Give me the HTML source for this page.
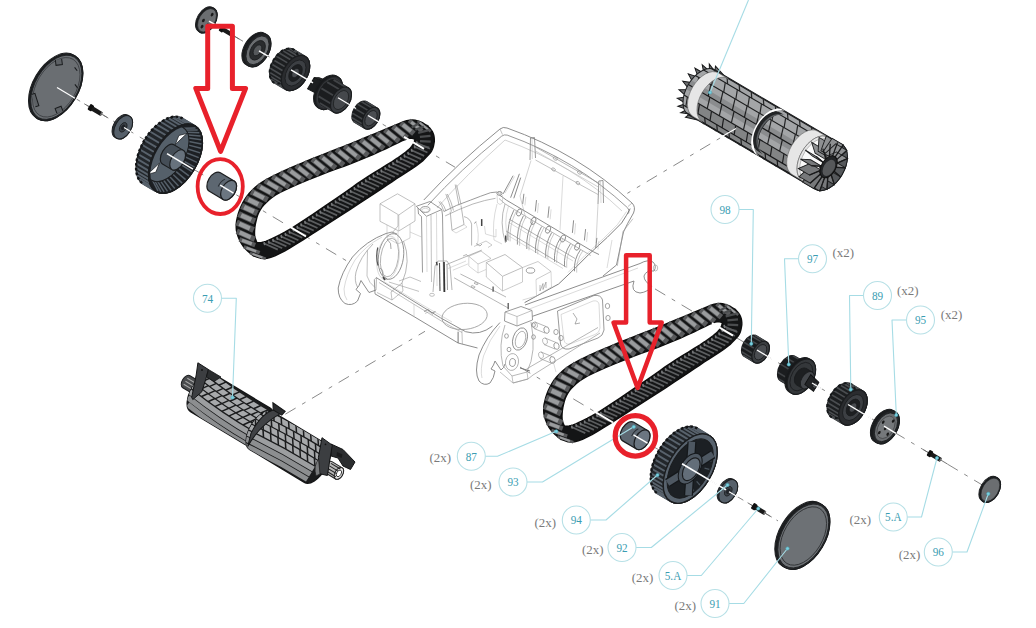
<!DOCTYPE html>
<html><head><meta charset="utf-8"><title>Parts diagram</title>
<style>html,body{margin:0;padding:0;background:#fff;}svg{display:block;font-family:"Liberation Serif",serif;}</style>
</head><body>
<svg width="1036" height="628" viewBox="0 0 1036 628">
<rect width="1036" height="628" fill="#fff"/>
<g><path d="M423.8 200 Q458 163 500 129 Q503 126.5 507 128 Q578 153 632 203 Q636 207 633.5 213 Q627 224 623.5 232 L616.5 265 L603 276" fill="none" stroke="#808080" stroke-width="0.9" stroke-linejoin="round"/><path d="M427.8 205.3 Q460.3 169.6 501.6 136.2 Q504.2 134.2 507.2 135.1 Q575.5 159.5 627.4 207.6 Q630 210 628.6 213.6" fill="none" stroke="#808080" stroke-width="0.8" stroke-linejoin="round"/><path d="M630.2 208.6 Q627 215 621.6 223 L607.3 237.3 L588.7 254.5 L571.5 271.7 L558.6 284 L524.6 302.6" fill="none" stroke="#727272" stroke-width="0.9" stroke-linejoin="round"/><path d="M626.5 211.5 L617.5 224.5 L603.5 238.5 L585 255.5 L568 272.5" fill="none" stroke="#b6b6b6" stroke-width="0.5" stroke-linejoin="round"/><path d="M623 231.5 L617.3 265.9 M633 218.7 L623 231.5" fill="none" stroke="#989898" stroke-width="0.6" stroke-linejoin="round"/><path d="M437 208 Q466 175 505 140 Q574 165 622 211" fill="none" stroke="#b6b6b6" stroke-width="0.6" stroke-linejoin="round"/><path d="M500 129 L502.5 134.5 M632 203 L628 206.5" fill="none" stroke="#989898" stroke-width="0.6" stroke-linejoin="round"/><polyline points="530.0,160.0 530.5,138.0 534.5,137.5 535.5,158.0" fill="none" stroke="#808080" stroke-width="0.8" stroke-linejoin="round"/><polyline points="532.0,138.0 532.3,159.0" fill="none" stroke="#b6b6b6" stroke-width="0.5" stroke-linejoin="round"/><polyline points="598.0,204.0 598.8,181.0 603.0,180.5 603.5,203.0" fill="none" stroke="#808080" stroke-width="0.8" stroke-linejoin="round"/><polyline points="600.5,181.0 601.0,203.0" fill="none" stroke="#b6b6b6" stroke-width="0.5" stroke-linejoin="round"/><polyline points="535.5,147.0 598.5,183.0" fill="none" stroke="#989898" stroke-width="0.7" stroke-linejoin="round"/><polyline points="535.5,151.0 598.3,187.0" fill="none" stroke="#b6b6b6" stroke-width="0.6" stroke-linejoin="round"/><ellipse cx="555.3" cy="158.5" rx="2.2" ry="1.5" transform="rotate(30 555.3 158.5)" fill="none" stroke="#989898" stroke-width="0.7"/><ellipse cx="579.5" cy="172.5" rx="2.2" ry="1.5" transform="rotate(30 579.5 172.5)" fill="none" stroke="#989898" stroke-width="0.7"/><ellipse cx="553.5" cy="169.5" rx="2.0" ry="1.4" transform="rotate(30 553.5 169.5)" fill="none" stroke="#989898" stroke-width="0.7"/><ellipse cx="577.8" cy="183.0" rx="2.0" ry="1.4" transform="rotate(30 577.8 183.0)" fill="none" stroke="#989898" stroke-width="0.7"/><polyline points="531.0,160.5 520.0,196.0 526.0,219.0" fill="none" stroke="#b6b6b6" stroke-width="0.6" stroke-linejoin="round"/><polyline points="535.5,160.0 598.0,194.5" fill="none" stroke="#989898" stroke-width="0.6" stroke-linejoin="round"/><polyline points="598.0,204.0 596.0,243.0" fill="none" stroke="#b6b6b6" stroke-width="0.6" stroke-linejoin="round"/><polyline points="563.0,176.0 560.0,230.0" fill="none" stroke="#b6b6b6" stroke-width="0.5" stroke-linejoin="round"/><polyline points="499.5,195.0 506.4,200.1 593.2,251.7 599.0,254.5" fill="none" stroke="#808080" stroke-width="0.9" stroke-linejoin="round"/><polyline points="499.0,198.5 505.1,203.9 590.7,255.5" fill="none" stroke="#989898" stroke-width="0.7" stroke-linejoin="round"/><polyline points="523.9,193.8 522.7,203.9" fill="none" stroke="#808080" stroke-width="0.9" stroke-linejoin="round"/><polyline points="525.9,196.8 524.9,205.4" fill="none" stroke="#b6b6b6" stroke-width="0.5" stroke-linejoin="round"/><polyline points="536.5,200.1 535.3,211.5" fill="none" stroke="#808080" stroke-width="0.9" stroke-linejoin="round"/><polyline points="538.5,203.1 537.5,213.0" fill="none" stroke="#b6b6b6" stroke-width="0.5" stroke-linejoin="round"/><polyline points="549.1,206.4 547.9,217.8" fill="none" stroke="#808080" stroke-width="0.9" stroke-linejoin="round"/><polyline points="551.1,209.4 550.1,219.3" fill="none" stroke="#b6b6b6" stroke-width="0.5" stroke-linejoin="round"/><polyline points="573.6,220.3 572.4,232.9" fill="none" stroke="#808080" stroke-width="0.9" stroke-linejoin="round"/><polyline points="575.6,223.3 574.6,234.4" fill="none" stroke="#b6b6b6" stroke-width="0.5" stroke-linejoin="round"/><polyline points="585.6,229.1 584.4,240.4" fill="none" stroke="#808080" stroke-width="0.9" stroke-linejoin="round"/><polyline points="587.6,232.1 586.6,241.9" fill="none" stroke="#b6b6b6" stroke-width="0.5" stroke-linejoin="round"/><polyline points="596.9,237.9 595.7,248.0" fill="none" stroke="#808080" stroke-width="0.9" stroke-linejoin="round"/><polyline points="598.9,240.9 597.9,249.5" fill="none" stroke="#b6b6b6" stroke-width="0.5" stroke-linejoin="round"/><ellipse cx="519.2" cy="212.5" rx="2.3" ry="3.7" transform="rotate(22 519.2 212.5)" fill="none" stroke="#808080" stroke-width="0.8"/><ellipse cx="533.4" cy="220.9" rx="2.3" ry="3.7" transform="rotate(22 533.4 220.9)" fill="none" stroke="#808080" stroke-width="0.8"/><ellipse cx="548.1" cy="229.7" rx="2.3" ry="3.7" transform="rotate(22 548.1 229.7)" fill="none" stroke="#808080" stroke-width="0.8"/><ellipse cx="563.0" cy="238.5" rx="2.3" ry="3.7" transform="rotate(22 563.0 238.5)" fill="none" stroke="#808080" stroke-width="0.8"/><ellipse cx="577.2" cy="246.7" rx="2.3" ry="3.7" transform="rotate(22 577.2 246.7)" fill="none" stroke="#808080" stroke-width="0.8"/><path d="M513.9 210.1 Q506.9 223.6 507.9 240.1" fill="none" stroke="#858585" stroke-width="0.9" stroke-linejoin="round"/><path d="M516.1 211.4 Q509.1 224.9 510.1 241.4" fill="none" stroke="#a8a8a8" stroke-width="0.6" stroke-linejoin="round"/><path d="M523.4 215.8 Q516.4 228.7 517.4 244.6" fill="none" stroke="#858585" stroke-width="0.9" stroke-linejoin="round"/><path d="M525.6 217.1 Q518.6 230.0 519.6 245.9" fill="none" stroke="#a8a8a8" stroke-width="0.6" stroke-linejoin="round"/><path d="M532.8 221.4 Q525.8 233.8 526.8 249.0" fill="none" stroke="#858585" stroke-width="0.9" stroke-linejoin="round"/><path d="M535.0 222.7 Q528.0 235.1 529.0 250.3" fill="none" stroke="#a8a8a8" stroke-width="0.6" stroke-linejoin="round"/><path d="M541.6 226.6 Q534.6 238.5 535.6 253.0" fill="none" stroke="#858585" stroke-width="0.9" stroke-linejoin="round"/><path d="M543.8 227.9 Q536.8 239.8 537.8 254.3" fill="none" stroke="#a8a8a8" stroke-width="0.6" stroke-linejoin="round"/><path d="M551.7 232.6 Q544.7 243.9 545.7 257.8" fill="none" stroke="#858585" stroke-width="0.9" stroke-linejoin="round"/><path d="M553.9 233.9 Q546.9 245.2 547.9 259.1" fill="none" stroke="#a8a8a8" stroke-width="0.6" stroke-linejoin="round"/><path d="M560.5 237.8 Q553.5 248.6 554.5 261.8" fill="none" stroke="#858585" stroke-width="0.9" stroke-linejoin="round"/><path d="M562.7 239.1 Q555.7 249.9 556.7 263.1" fill="none" stroke="#a8a8a8" stroke-width="0.6" stroke-linejoin="round"/><path d="M570.5 243.7 Q563.5 254.0 564.5 266.5" fill="none" stroke="#858585" stroke-width="0.9" stroke-linejoin="round"/><path d="M572.7 245.0 Q565.7 255.3 566.7 267.8" fill="none" stroke="#a8a8a8" stroke-width="0.6" stroke-linejoin="round"/><path d="M580.5 249.7 Q573.5 259.4 574.5 271.3" fill="none" stroke="#858585" stroke-width="0.9" stroke-linejoin="round"/><path d="M582.7 251.0 Q575.7 260.7 576.7 272.6" fill="none" stroke="#a8a8a8" stroke-width="0.6" stroke-linejoin="round"/><polyline points="509.0,219.0 575.0,258.5" fill="none" stroke="#909090" stroke-width="0.7" stroke-linejoin="round"/><polyline points="508.0,222.0 573.0,261.0" fill="none" stroke="#b6b6b6" stroke-width="0.5" stroke-linejoin="round"/><polyline points="506.0,231.0 566.0,267.0" fill="none" stroke="#909090" stroke-width="0.7" stroke-linejoin="round"/><polyline points="505.5,234.0 563.0,268.5" fill="none" stroke="#b6b6b6" stroke-width="0.5" stroke-linejoin="round"/><polyline points="505.7,235.4 505.9,241.7" fill="none" stroke="#444" stroke-width="1.5" stroke-linejoin="round"/><path d="M505 204 Q499 222 505.5 243" fill="none" stroke="#989898" stroke-width="0.7" stroke-linejoin="round"/><path d="M508.5 206 Q503 222 508.5 241" fill="none" stroke="#b6b6b6" stroke-width="0.5" stroke-linejoin="round"/><polygon points="416.3,206.3 430.0,201.5 441.8,209.5 426.5,216.3" fill="none" stroke="#808080" stroke-width="0.8" stroke-linejoin="round"/><ellipse cx="425.3" cy="209.5" rx="4.6" ry="2.9" transform="rotate(0 425.3 209.5)" fill="none" stroke="#808080" stroke-width="0.8"/><ellipse cx="425.3" cy="210.3" rx="3.4" ry="2.0" transform="rotate(0 425.3 210.3)" fill="none" stroke="#b6b6b6" stroke-width="0.5"/><polyline points="418.0,208.0 418.5,214.0 421.5,216.5 422.5,272.5" fill="none" stroke="#808080" stroke-width="0.8" stroke-linejoin="round"/><polyline points="441.8,210.0 442.5,215.0 443.8,292.0" fill="none" stroke="#808080" stroke-width="0.8" stroke-linejoin="round"/><polyline points="426.5,216.3 427.0,272.0" fill="none" stroke="#b6b6b6" stroke-width="0.5" stroke-linejoin="round"/><polyline points="431.0,215.0 431.5,282.0" fill="none" stroke="#989898" stroke-width="0.6" stroke-linejoin="round"/><polyline points="436.5,213.0 437.0,286.0" fill="none" stroke="#b6b6b6" stroke-width="0.5" stroke-linejoin="round"/><polygon points="380.0,203.8 397.5,193.8 415.0,203.8 398.8,215.0" fill="none" stroke="#a6a6a6" stroke-width="0.7" stroke-linejoin="round"/><polyline points="380.0,203.8 380.0,221.3 398.8,231.0 415.0,221.0 415.0,203.8" fill="none" stroke="#a6a6a6" stroke-width="0.7" stroke-linejoin="round"/><polyline points="398.8,215.0 398.8,231.0" fill="none" stroke="#ababab" stroke-width="0.6" stroke-linejoin="round"/><polyline points="387.0,225.0 387.0,238.0 398.0,244.0 398.0,231.0" fill="none" stroke="#b2b2b2" stroke-width="0.5" stroke-linejoin="round"/><polyline points="398.0,244.0 410.0,238.0 410.0,224.0" fill="none" stroke="#b6b6b6" stroke-width="0.6" stroke-linejoin="round"/><polyline points="410.0,232.0 421.5,237.0" fill="none" stroke="#b2b2b2" stroke-width="0.5" stroke-linejoin="round"/><path d="M386 233.5 Q366 241 352.5 257 Q341 273 338.2 288 Q338 298.5 345 303.5 Q352 306.5 357.5 301 L360.5 293.5 L356 289.5 Q359.5 286 361 280.5 L369 292.5 L376 290" fill="none" stroke="#808080" stroke-width="0.9" stroke-linejoin="round"/><path d="M382 237 Q365 246 355 260 Q346 275 344 289 Q344 296 347 300" fill="none" stroke="#b6b6b6" stroke-width="0.5" stroke-linejoin="round"/><path d="M373 244 Q360 257 356 272 Q354 281 357.5 287" fill="none" stroke="#989898" stroke-width="0.7" stroke-linejoin="round"/><path d="M367.5 250 L367 276 Q369 283 375 287.5" fill="none" stroke="#989898" stroke-width="0.6" stroke-linejoin="round"/><path d="M386 233.5 L392 232 L397 234" fill="none" stroke="#808080" stroke-width="0.8" stroke-linejoin="round"/><ellipse cx="391.0" cy="256.5" rx="12.5" ry="23.0" transform="rotate(8 391.0 256.5)" fill="none" stroke="#808080" stroke-width="0.8"/><ellipse cx="389.5" cy="257.5" rx="8.8" ry="19.5" transform="rotate(8 389.5 257.5)" fill="none" stroke="#989898" stroke-width="0.7"/><ellipse cx="388.0" cy="258.0" rx="11.0" ry="22.0" transform="rotate(8 388.0 258.0)" fill="none" stroke="#b6b6b6" stroke-width="0.5"/><path d="M377.8 247.5 Q375.5 256 378 265.5" fill="none" stroke="#555" stroke-width="1.2" stroke-linejoin="round"/><path d="M383 277 L385 280" fill="none" stroke="#444" stroke-width="1.6" stroke-linejoin="round"/><path d="M387 239 Q392 243 391 249 M380 268 Q384 270 382.5 275 L387.5 279.5" fill="none" stroke="#808080" stroke-width="0.7" stroke-linejoin="round"/><path d="M403.5 241 Q411.5 261 402 283 L391 292" fill="none" stroke="#989898" stroke-width="0.7" stroke-linejoin="round"/><path d="M392 233 L398 226 L398 215" fill="none" stroke="#989898" stroke-width="0.6" stroke-linejoin="round"/><path d="M391 292 L392 300 M402 283 L403 291 L392 300 L377 292.5" fill="none" stroke="#989898" stroke-width="0.6" stroke-linejoin="round"/><path d="M376 290 L376.5 277.5" fill="none" stroke="#989898" stroke-width="0.7" stroke-linejoin="round"/><path d="M376.3 277.6 L407.8 297.7 L440.5 317.8 L465.6 331.7 Q480 336 492.5 326" fill="none" stroke="#808080" stroke-width="0.9" stroke-linejoin="round"/><path d="M375 293.9 L414 316.6 L458.1 343 L477.5 348" fill="none" stroke="#808080" stroke-width="0.9" stroke-linejoin="round"/><path d="M379 282.5 L409.5 301.5 L441 320.8 L462 332.5" fill="none" stroke="#989898" stroke-width="0.6" stroke-linejoin="round"/><path d="M383 281 L420 303.5 L452 322" fill="none" stroke="#b6b6b6" stroke-width="0.5" stroke-linejoin="round"/><polyline points="374.3,279.5 375.0,293.9" fill="none" stroke="#808080" stroke-width="0.8" stroke-linejoin="round"/><polyline points="458.1,331.7 458.1,343.0" fill="none" stroke="#666" stroke-width="0.9" stroke-linejoin="round"/><polyline points="461.9,330.4 462.4,344.2" fill="none" stroke="#989898" stroke-width="0.6" stroke-linejoin="round"/><polyline points="376.3,277.6 374.3,279.5" fill="none" stroke="#989898" stroke-width="0.7" stroke-linejoin="round"/><polyline points="414.0,304.0 414.0,316.6" fill="none" stroke="#b6b6b6" stroke-width="0.5" stroke-linejoin="round"/><polyline points="424.0,311.5 428.0,309.5 432.0,313.0 435.5,311.5" fill="none" stroke="#808080" stroke-width="0.8" stroke-linejoin="round"/><polyline points="425.0,313.5 429.0,311.5 433.0,315.0" fill="none" stroke="#989898" stroke-width="0.5" stroke-linejoin="round"/><ellipse cx="464.6" cy="316.4" rx="22.7" ry="13.0" transform="rotate(-6 464.6 316.4)" fill="none" stroke="#989898" stroke-width="0.8"/><path d="M388.9 282 L419 291.4 M399 281 L410 277 L421 281.5" fill="none" stroke="#989898" stroke-width="0.6" stroke-linejoin="round"/><polyline points="433.0,292.0 435.0,266.0 438.0,261.0 447.0,261.0 450.0,266.0 452.0,290.0" fill="none" stroke="#989898" stroke-width="0.7" stroke-linejoin="round"/><polyline points="439.5,263.0 440.0,291.0" fill="none" stroke="#555" stroke-width="1.1" stroke-linejoin="round"/><polyline points="444.0,262.0 444.5,292.0" fill="none" stroke="#333" stroke-width="1.6" stroke-linejoin="round"/><polyline points="447.0,264.0 447.5,290.0" fill="none" stroke="#777" stroke-width="0.7" stroke-linejoin="round"/><ellipse cx="432.0" cy="294.8" rx="2.4" ry="1.5" transform="rotate(0 432.0 294.8)" fill="none" stroke="#989898" stroke-width="0.6"/><polygon points="486.3,262.5 505.0,254.5 522.5,267.5 502.5,276.3" fill="none" stroke="#a2a2a2" stroke-width="0.7" stroke-linejoin="round"/><polyline points="486.3,262.5 486.3,277.0 502.5,291.0 522.5,282.0 522.5,267.5" fill="none" stroke="#aaaaaa" stroke-width="0.6" stroke-linejoin="round"/><polyline points="502.5,276.3 502.5,291.0" fill="none" stroke="#aaaaaa" stroke-width="0.6" stroke-linejoin="round"/><polygon points="468.8,256.3 481.0,251.0 491.0,258.5 478.0,264.0" fill="none" stroke="#a8a8a8" stroke-width="0.6" stroke-linejoin="round"/><polyline points="468.8,256.3 468.8,266.0 478.0,273.0 486.0,269.5" fill="none" stroke="#b0b0b0" stroke-width="0.5" stroke-linejoin="round"/><polyline points="478.0,264.0 478.0,273.0" fill="none" stroke="#b0b0b0" stroke-width="0.5" stroke-linejoin="round"/><polyline points="522.5,267.5 538.0,261.5 551.0,271.5 536.0,279.5" fill="none" stroke="#a8a8a8" stroke-width="0.6" stroke-linejoin="round"/><ellipse cx="530.5" cy="270.5" rx="4.2" ry="2.7" transform="rotate(0 530.5 270.5)" fill="none" stroke="#808080" stroke-width="0.8"/><polyline points="536.0,279.5 536.5,296.0 522.5,300.0" fill="none" stroke="#b0b0b0" stroke-width="0.5" stroke-linejoin="round"/><polyline points="551.0,271.5 551.5,287.0 536.5,296.0" fill="none" stroke="#b0b0b0" stroke-width="0.5" stroke-linejoin="round"/><polyline points="540.0,285.0 540.0,291.0 543.0,283.5 543.0,289.5 546.0,282.0 546.0,288.0" fill="none" stroke="#777" stroke-width="0.5" stroke-linejoin="round"/><polyline points="446.6,264.5 481.8,250.1" fill="none" stroke="#989898" stroke-width="0.7" stroke-linejoin="round"/><polyline points="448.0,268.5 466.0,261.0" fill="none" stroke="#b6b6b6" stroke-width="0.5" stroke-linejoin="round"/><polyline points="454.1,277.8 508.2,308.0" fill="none" stroke="#989898" stroke-width="0.7" stroke-linejoin="round"/><polyline points="460.4,274.0 493.1,290.3 506.0,297.0" fill="none" stroke="#989898" stroke-width="0.7" stroke-linejoin="round"/><polyline points="452.9,270.2 468.0,263.9" fill="none" stroke="#b6b6b6" stroke-width="0.5" stroke-linejoin="round"/><polyline points="493.1,286.6 493.1,291.8" fill="none" stroke="#555" stroke-width="1.3" stroke-linejoin="round"/><polyline points="508.2,302.9 508.2,309.2" fill="none" stroke="#555" stroke-width="1.3" stroke-linejoin="round"/><polygon points="474.0,283.2 477.0,284.8 478.3,283.8 475.3,282.2" fill="none" stroke="#888" stroke-width="0.6" stroke-linejoin="round"/><polygon points="470.9,286.4 473.9,288.0 475.2,287.0 472.2,285.4" fill="none" stroke="#888" stroke-width="0.6" stroke-linejoin="round"/><polyline points="436.5,261.8 437.1,265.4" fill="none" stroke="#444" stroke-width="1.5" stroke-linejoin="round"/><polyline points="463.0,256.0 466.5,254.5 468.0,256.5" fill="none" stroke="#888" stroke-width="0.6" stroke-linejoin="round"/><polyline points="474.0,246.5 486.0,241.0 492.0,245.0 488.0,247.5" fill="none" stroke="#999" stroke-width="0.5" stroke-linejoin="round"/><polyline points="476.0,243.5 480.0,246.0 482.0,244.0" fill="none" stroke="#777" stroke-width="0.6" stroke-linejoin="round"/><path d="M443.9 211.5 Q456 205 470.3 200.2 Q481 196 490.5 192.7 L497 192" fill="none" stroke="#808080" stroke-width="0.8" stroke-linejoin="round"/><path d="M445.2 215.9 Q458 209.5 472.9 204 Q485 200 495.5 198.3" fill="none" stroke="#989898" stroke-width="0.7" stroke-linejoin="round"/><ellipse cx="499.5" cy="193.4" rx="2.6" ry="1.9" transform="rotate(0 499.5 193.4)" fill="none" stroke="#808080" stroke-width="0.9"/><ellipse cx="499.5" cy="193.0" rx="1.4" ry="1.0" transform="rotate(0 499.5 193.0)" fill="none" stroke="#989898" stroke-width="0.6"/><path d="M497 195 L497.5 203 Q500 206 502.5 203 L502.5 195" fill="none" stroke="#b6b6b6" stroke-width="0.5" stroke-linejoin="round"/><path d="M438.9 201.5 Q442 205 443.9 211.5 M440.5 201.5 Q444.5 206 446 211" fill="none" stroke="#989898" stroke-width="0.7" stroke-linejoin="round"/><path d="M445.8 193.9 Q449 202 451.5 211.5 M447.3 194 Q451.5 202 453.5 210.5" fill="none" stroke="#989898" stroke-width="0.7" stroke-linejoin="round"/><path d="M455.2 184.5 Q457 195 459 205.2 M456.6 184.8 L461 204.5" fill="none" stroke="#989898" stroke-width="0.7" stroke-linejoin="round"/><polyline points="450.2,211.5 452.0,230.4 464.0,224.5 461.0,205.5" fill="none" stroke="#989898" stroke-width="0.7" stroke-linejoin="round"/><polyline points="452.0,230.4 456.0,233.0 467.0,227.0 464.0,224.5" fill="none" stroke="#b6b6b6" stroke-width="0.5" stroke-linejoin="round"/><path d="M464 216.6 Q470 218 471.6 224.1 L471.6 245.5" fill="none" stroke="#989898" stroke-width="0.7" stroke-linejoin="round"/><path d="M476 222 Q480 235 477 246 M484.5 226 L485.5 234 L496 237 L496 229" fill="none" stroke="#b6b6b6" stroke-width="0.5" stroke-linejoin="round"/><path d="M497 204 Q492 222 494 240 L502 244" fill="none" stroke="#b6b6b6" stroke-width="0.5" stroke-linejoin="round"/><polyline points="481.7,219.1 481.7,226.0" fill="none" stroke="#444" stroke-width="1.5" stroke-linejoin="round"/><polyline points="474.5,223.5 476.0,221.5" fill="none" stroke="#777" stroke-width="0.8" stroke-linejoin="round"/><polyline points="503.1,193.9 513.1,175.7" fill="none" stroke="#808080" stroke-width="0.9" stroke-linejoin="round"/><polyline points="510.6,197.7 519.4,173.8" fill="none" stroke="#808080" stroke-width="0.9" stroke-linejoin="round"/><polyline points="513.8,198.3 520.7,177.6" fill="none" stroke="#7a7a7a" stroke-width="0.9" stroke-linejoin="round"/><polyline points="505.0,193.0 514.5,176.5" fill="none" stroke="#b6b6b6" stroke-width="0.5" stroke-linejoin="round"/><path d="M525 305 L640 263.5 Q648 259 653 262 M532.5 316.3 L634 281 Q630 292 640 293 Q648 292 652 286" fill="none" stroke="#808080" stroke-width="0.9" stroke-linejoin="round"/><path d="M653 262 Q657 266 654 271 Q646 270 644 276 Q644 282 652 286" fill="none" stroke="#808080" stroke-width="0.9" stroke-linejoin="round"/><path d="M528 309.5 L638 268" fill="none" stroke="#b6b6b6" stroke-width="0.5" stroke-linejoin="round"/><ellipse cx="655.5" cy="268.0" rx="2.2" ry="3.0" transform="rotate(0 655.5 268.0)" fill="none" stroke="#989898" stroke-width="0.6"/><path d="M612 240 L607 268" fill="none" stroke="#b6b6b6" stroke-width="0.5" stroke-linejoin="round"/><path d="M557.5 311 L594 295.5 Q601 294.5 602.5 300 L604 330 Q603 336 598 338 L569 349 Q562 350 560.5 344 Z" fill="none" stroke="#808080" stroke-width="0.8" stroke-linejoin="round"/><path d="M561 314.5 L593 301 Q598 300 599 304 L600 328 Q599.5 333 595 334.5 L570 344 Q565 345 564 340 Z" fill="none" stroke="#b6b6b6" stroke-width="0.5" stroke-linejoin="round"/><polyline points="573.0,313.0 577.0,319.0 575.0,324.0 580.0,323.0" fill="none" stroke="#777" stroke-width="0.6" stroke-linejoin="round"/><ellipse cx="607.5" cy="306.0" rx="2.2" ry="2.6" transform="rotate(0 607.5 306.0)" fill="none" stroke="#808080" stroke-width="0.7"/><ellipse cx="608.0" cy="318.0" rx="2.2" ry="2.6" transform="rotate(0 608.0 318.0)" fill="none" stroke="#808080" stroke-width="0.7"/><ellipse cx="556.0" cy="332.0" rx="2.2" ry="2.6" transform="rotate(0 556.0 332.0)" fill="none" stroke="#808080" stroke-width="0.7"/><ellipse cx="561.0" cy="338.0" rx="2.2" ry="2.6" transform="rotate(0 561.0 338.0)" fill="none" stroke="#808080" stroke-width="0.7"/><path d="M535 322 l11 4.5 M534 328.5 l11 4.5" fill="none" stroke="#989898" stroke-width="0.7" stroke-linejoin="round"/><ellipse cx="546.5" cy="330.0" rx="2.6" ry="3.4" transform="rotate(-15 546.5 330.0)" fill="none" stroke="#808080" stroke-width="0.7"/><ellipse cx="535.0" cy="325.2" rx="2.4" ry="3.3" transform="rotate(-15 535.0 325.2)" fill="none" stroke="#989898" stroke-width="0.6"/><path d="M545 338 l11 4.5 M544 344.5 l11 4.5" fill="none" stroke="#989898" stroke-width="0.7" stroke-linejoin="round"/><ellipse cx="556.5" cy="346.0" rx="2.6" ry="3.4" transform="rotate(-15 556.5 346.0)" fill="none" stroke="#808080" stroke-width="0.7"/><ellipse cx="545.0" cy="341.2" rx="2.4" ry="3.3" transform="rotate(-15 545.0 341.2)" fill="none" stroke="#989898" stroke-width="0.6"/><path d="M541 352 l11 4.5 M540 358.5 l11 4.5" fill="none" stroke="#989898" stroke-width="0.7" stroke-linejoin="round"/><ellipse cx="552.5" cy="360.0" rx="2.6" ry="3.4" transform="rotate(-15 552.5 360.0)" fill="none" stroke="#808080" stroke-width="0.7"/><ellipse cx="541.0" cy="355.2" rx="2.4" ry="3.3" transform="rotate(-15 541.0 355.2)" fill="none" stroke="#989898" stroke-width="0.6"/><path d="M505 312 L521 306.5 L532 310.5 L532.5 320 L517 326 L504.5 321 Z" fill="none" stroke="#808080" stroke-width="0.8" stroke-linejoin="round"/><path d="M505 312 L517 316.5 L532 310.5 M517 316.5 L517 326" fill="none" stroke="#989898" stroke-width="0.6" stroke-linejoin="round"/><path d="M500 322.5 Q486 337 479 355 Q474 372 479 381 Q484 386.5 490 383 Q494 378 495 371 L491 369 Q494 365 495 361 L501 370 Q504 368 505 364" fill="none" stroke="#808080" stroke-width="0.9" stroke-linejoin="round"/><path d="M500 326 Q489 340 483.5 356 Q480 370 482 378" fill="none" stroke="#b6b6b6" stroke-width="0.5" stroke-linejoin="round"/><ellipse cx="520.0" cy="339.0" rx="7.0" ry="11.5" transform="rotate(18 520.0 339.0)" fill="none" stroke="#808080" stroke-width="0.8"/><ellipse cx="520.5" cy="339.5" rx="4.8" ry="8.5" transform="rotate(18 520.5 339.5)" fill="none" stroke="#989898" stroke-width="0.7"/><ellipse cx="512.0" cy="362.0" rx="6.5" ry="8.5" transform="rotate(10 512.0 362.0)" fill="none" stroke="#989898" stroke-width="0.7"/><ellipse cx="512.5" cy="362.5" rx="3.0" ry="4.0" transform="rotate(10 512.5 362.5)" fill="none" stroke="#808080" stroke-width="0.7"/><path d="M505 325 Q498 345 503 366 L512 376 L527 372 Q537 352 531 322" fill="none" stroke="#989898" stroke-width="0.7" stroke-linejoin="round"/><path d="M512 376 L513 383 L528 379 L527 372 M513 383 L500 372" fill="none" stroke="#989898" stroke-width="0.6" stroke-linejoin="round"/><ellipse cx="506.5" cy="336.0" rx="1.9" ry="2.2" transform="rotate(0 506.5 336.0)" fill="none" stroke="#808080" stroke-width="0.7"/><ellipse cx="509.0" cy="349.5" rx="1.9" ry="2.2" transform="rotate(0 509.0 349.5)" fill="none" stroke="#808080" stroke-width="0.7"/><ellipse cx="533.5" cy="325.0" rx="1.9" ry="2.2" transform="rotate(0 533.5 325.0)" fill="none" stroke="#808080" stroke-width="0.7"/><ellipse cx="533.5" cy="337.0" rx="1.9" ry="2.2" transform="rotate(0 533.5 337.0)" fill="none" stroke="#808080" stroke-width="0.7"/><polyline points="520.0,368.0 530.0,371.0" fill="none" stroke="#555" stroke-width="0.8" stroke-linejoin="round"/><path d="M513 383 L528 379 L533 375 L600 333 M526.5 369 L598 327.5" fill="none" stroke="#989898" stroke-width="0.7" stroke-linejoin="round"/><path d="M556 372 L553 361" fill="none" stroke="#b6b6b6" stroke-width="0.5" stroke-linejoin="round"/></g>
<line x1="60.0" y1="89.2" x2="348.0" y2="261.7" stroke="#7c7c7c" stroke-width="0.9" stroke-dasharray="12 7.5 4 7.5"/>
<line x1="206.0" y1="19.3" x2="455.0" y2="167.2" stroke="#7c7c7c" stroke-width="0.9" stroke-dasharray="12 7.5 4 7.5"/>
<line x1="655.0" y1="288.9" x2="985.0" y2="486.6" stroke="#7c7c7c" stroke-width="0.9" stroke-dasharray="12 7.5 4 7.5"/>
<line x1="520.0" y1="367.1" x2="778.0" y2="520.9" stroke="#7c7c7c" stroke-width="0.9" stroke-dasharray="12 7.5 4 7.5"/>
<line x1="736.9" y1="128.0" x2="627.4" y2="193.3" stroke="#7c7c7c" stroke-width="0.9" stroke-dasharray="12 7.5 4 7.5"/>
<line x1="285.3" y1="414.2" x2="425.0" y2="331.3" stroke="#7c7c7c" stroke-width="0.9" stroke-dasharray="12 7.5 4 7.5"/>
<path d="M253.5,256.0 252.9,255.5 251.7,254.5 249.9,253.0 247.6,251.0 245.4,248.8 243.5,246.5 241.8,244.1 240.2,241.4 239.0,238.8 237.9,236.0 237.1,233.2 236.4,230.3 236.2,227.3 236.2,224.1 236.6,220.8 237.4,217.2 238.3,213.8 239.5,210.2 240.9,206.8 242.6,203.2 244.5,199.8 246.8,196.5 249.3,193.3 252.2,190.2 255.3,187.3 258.6,184.6 262.2,182.1 265.9,179.8 270.9,177.2 277.0,174.1 284.3,170.7 292.8,167.0 301.9,163.1 311.7,159.0 322.2,154.8 333.3,150.5 344.5,146.1 355.7,141.6 366.9,137.0 378.1,132.4 387.4,128.5 394.7,125.5 400.1,123.2 403.5,121.7 406.7,120.7 409.7,120.1 412.5,120.0 415.1,120.3 417.6,120.9 420.0,121.7 422.4,122.7 424.6,124.1 426.3,125.0 427.4,125.7 428.0,126.0 428.0,126.0 428.3,126.4 428.9,127.1 429.9,128.2 431.1,129.8 432.2,131.4 433.0,133.1 433.7,135.0 434.1,137.0 434.3,139.1 434.3,141.4 433.9,143.9 433.4,146.4 432.6,148.7 431.8,150.6 430.8,152.2 429.7,153.5 428.3,155.0 426.6,156.7 424.7,158.7 422.6,160.9 419.7,163.3 416.1,166.0 411.7,168.9 406.7,172.1 401.7,175.3 396.8,178.5 391.9,181.8 387.2,185.0 381.4,188.9 374.6,193.4 366.9,198.5 358.1,204.2 349.1,210.1 339.7,216.2 330.0,222.5 320.0,228.9 311.0,234.7 303.0,239.8 296.0,244.2 290.0,247.9 284.5,251.1 279.4,253.7 274.9,255.8 270.8,257.3 267.1,258.2 263.6,258.5 260.5,258.2 257.7,257.4 255.6,256.7 254.2,256.2 253.5,256.0Z M256.8,242.6 256.6,242.1 256.3,241.2 255.8,239.7 255.0,237.9 254.6,235.6 254.5,233.0 254.6,230.1 254.9,226.9 255.4,223.8 256.1,220.8 256.8,217.9 257.7,215.1 258.8,212.5 260.2,209.9 261.8,207.4 263.7,205.1 266.0,202.7 268.6,200.2 271.7,197.8 275.2,195.2 280.6,192.2 288.0,188.6 297.4,184.4 308.7,179.7 319.0,175.5 328.3,171.9 336.5,168.8 343.8,166.3 351.0,163.6 358.3,160.7 365.6,157.7 373.0,154.5 379.8,151.4 386.2,148.5 392.0,145.7 397.4,143.0 401.8,140.9 405.3,139.5 407.9,138.6 409.5,138.4 411.0,138.3 412.1,138.3 413.1,138.6 413.9,138.9 414.4,139.2 414.8,139.4 415.0,139.5 415.0,139.5 414.9,139.8 414.7,140.3 414.4,141.2 414.1,142.3 413.5,143.6 412.7,144.9 411.7,146.4 410.4,147.9 408.4,149.9 405.5,152.3 401.7,155.0 397.2,158.2 392.2,161.5 386.7,164.9 380.9,168.6 374.6,172.3 368.6,176.1 363.0,179.8 357.6,183.4 352.6,187.1 345.5,192.0 336.4,198.3 325.3,205.9 312.2,214.9 301.1,222.2 291.9,228.0 284.8,232.2 279.7,234.9 275.2,237.1 271.4,238.9 268.2,240.3 265.8,241.3 263.6,242.0 261.6,242.5 260.0,242.7 258.8,242.7 257.8,242.6 257.1,242.6 256.8,242.6Z" fill="#141516" fill-rule="evenodd" stroke="#0e0e0e" stroke-width="1.4" stroke-linejoin="round"/>
<line x1="250.0" y1="253.0" x2="265.8" y2="258.7" stroke="#58595b" stroke-width="2.6"/>
<line x1="252.5" y1="253.9" x2="262.4" y2="257.5" stroke="#999b9d" stroke-width="1.9"/>
<line x1="243.9" y1="246.9" x2="259.7" y2="252.6" stroke="#58595b" stroke-width="3.5"/>
<line x1="246.4" y1="247.8" x2="256.2" y2="251.4" stroke="#999b9d" stroke-width="2.6"/>
<line x1="239.4" y1="239.4" x2="255.2" y2="245.2" stroke="#58595b" stroke-width="4.6"/>
<line x1="242.0" y1="240.3" x2="251.8" y2="243.9" stroke="#999b9d" stroke-width="3.3"/>
<line x1="236.8" y1="231.2" x2="254.8" y2="239.2" stroke="#58595b" stroke-width="5.4"/>
<line x1="239.7" y1="232.4" x2="250.7" y2="237.4" stroke="#999b9d" stroke-width="3.9"/>
<line x1="236.6" y1="222.5" x2="253.6" y2="230.1" stroke="#58595b" stroke-width="6.0"/>
<line x1="239.3" y1="223.7" x2="249.8" y2="228.4" stroke="#999b9d" stroke-width="4.4"/>
<line x1="238.5" y1="214.0" x2="254.9" y2="221.4" stroke="#58595b" stroke-width="6.2"/>
<line x1="241.1" y1="215.2" x2="251.3" y2="219.7" stroke="#999b9d" stroke-width="4.5"/>
<line x1="241.6" y1="205.9" x2="257.4" y2="213.2" stroke="#58595b" stroke-width="6.3"/>
<line x1="244.1" y1="207.1" x2="253.9" y2="211.6" stroke="#999b9d" stroke-width="4.5"/>
<line x1="245.8" y1="198.3" x2="261.7" y2="206.0" stroke="#58595b" stroke-width="6.2"/>
<line x1="248.3" y1="199.5" x2="258.2" y2="204.3" stroke="#999b9d" stroke-width="4.4"/>
<line x1="251.2" y1="191.5" x2="267.6" y2="199.9" stroke="#58595b" stroke-width="6.0"/>
<line x1="253.8" y1="192.9" x2="263.9" y2="198.1" stroke="#999b9d" stroke-width="4.3"/>
<line x1="257.6" y1="185.6" x2="274.3" y2="194.8" stroke="#58595b" stroke-width="5.7"/>
<line x1="260.3" y1="187.1" x2="270.6" y2="192.7" stroke="#999b9d" stroke-width="4.1"/>
<line x1="264.8" y1="180.7" x2="281.8" y2="190.7" stroke="#58595b" stroke-width="5.4"/>
<line x1="267.5" y1="182.3" x2="277.9" y2="188.5" stroke="#999b9d" stroke-width="3.9"/>
<line x1="272.4" y1="176.6" x2="289.1" y2="187.2" stroke="#58595b" stroke-width="5.3"/>
<line x1="275.1" y1="178.3" x2="285.4" y2="184.8" stroke="#999b9d" stroke-width="3.8"/>
<line x1="280.2" y1="172.8" x2="296.5" y2="183.9" stroke="#58595b" stroke-width="5.4"/>
<line x1="282.8" y1="174.6" x2="292.8" y2="181.4" stroke="#999b9d" stroke-width="3.9"/>
<line x1="288.1" y1="169.2" x2="304.0" y2="180.7" stroke="#58595b" stroke-width="5.4"/>
<line x1="290.7" y1="171.1" x2="300.4" y2="178.2" stroke="#999b9d" stroke-width="3.9"/>
<line x1="296.1" y1="165.7" x2="311.4" y2="177.7" stroke="#58595b" stroke-width="5.5"/>
<line x1="298.5" y1="167.6" x2="308.0" y2="175.0" stroke="#999b9d" stroke-width="4.0"/>
<line x1="304.1" y1="162.3" x2="319.2" y2="174.5" stroke="#58595b" stroke-width="5.5"/>
<line x1="306.5" y1="164.3" x2="315.8" y2="171.8" stroke="#999b9d" stroke-width="4.0"/>
<line x1="312.2" y1="159.0" x2="327.4" y2="171.3" stroke="#58595b" stroke-width="5.5"/>
<line x1="314.6" y1="161.0" x2="323.9" y2="168.6" stroke="#999b9d" stroke-width="3.9"/>
<line x1="320.2" y1="155.8" x2="335.6" y2="168.2" stroke="#58595b" stroke-width="5.5"/>
<line x1="322.7" y1="157.8" x2="332.2" y2="165.4" stroke="#999b9d" stroke-width="3.9"/>
<line x1="328.3" y1="152.6" x2="343.7" y2="165.1" stroke="#58595b" stroke-width="5.4"/>
<line x1="330.8" y1="154.6" x2="340.3" y2="162.3" stroke="#999b9d" stroke-width="3.9"/>
<line x1="336.4" y1="149.4" x2="351.8" y2="161.9" stroke="#58595b" stroke-width="5.5"/>
<line x1="338.9" y1="151.4" x2="348.4" y2="159.1" stroke="#999b9d" stroke-width="3.9"/>
<line x1="344.5" y1="146.2" x2="359.9" y2="158.7" stroke="#58595b" stroke-width="5.5"/>
<line x1="347.0" y1="148.2" x2="356.5" y2="155.9" stroke="#999b9d" stroke-width="3.9"/>
<line x1="352.6" y1="143.0" x2="368.0" y2="155.5" stroke="#58595b" stroke-width="5.5"/>
<line x1="355.1" y1="145.0" x2="364.5" y2="152.7" stroke="#999b9d" stroke-width="3.9"/>
<line x1="360.7" y1="139.7" x2="376.0" y2="152.2" stroke="#58595b" stroke-width="5.5"/>
<line x1="363.1" y1="141.7" x2="372.6" y2="149.4" stroke="#999b9d" stroke-width="4.0"/>
<line x1="368.7" y1="136.5" x2="383.8" y2="148.6" stroke="#58595b" stroke-width="5.5"/>
<line x1="371.1" y1="138.4" x2="380.4" y2="145.9" stroke="#999b9d" stroke-width="4.0"/>
<line x1="376.8" y1="133.1" x2="391.4" y2="145.0" stroke="#58595b" stroke-width="5.5"/>
<line x1="379.1" y1="135.0" x2="388.1" y2="142.3" stroke="#999b9d" stroke-width="4.0"/>
<line x1="384.8" y1="129.8" x2="399.0" y2="141.3" stroke="#58595b" stroke-width="5.5"/>
<line x1="387.1" y1="131.6" x2="395.8" y2="138.7" stroke="#999b9d" stroke-width="4.0"/>
<line x1="392.8" y1="126.4" x2="407.1" y2="138.0" stroke="#58595b" stroke-width="5.5"/>
<line x1="395.1" y1="128.3" x2="403.9" y2="135.4" stroke="#999b9d" stroke-width="4.0"/>
<line x1="400.8" y1="123.1" x2="413.9" y2="133.6" stroke="#58595b" stroke-width="5.6"/>
<line x1="402.9" y1="124.7" x2="411.0" y2="131.3" stroke="#999b9d" stroke-width="4.0"/>
<line x1="409.1" y1="120.4" x2="422.1" y2="131.0" stroke="#58595b" stroke-width="4.3"/>
<line x1="411.2" y1="122.1" x2="419.3" y2="128.6" stroke="#999b9d" stroke-width="3.1"/>
<line x1="417.7" y1="121.0" x2="430.7" y2="131.6" stroke="#58595b" stroke-width="2.6"/>
<line x1="419.8" y1="122.7" x2="427.9" y2="129.2" stroke="#999b9d" stroke-width="1.9"/>
<line x1="411.7" y1="127.5" x2="418.5" y2="123.6" stroke="#4a4c4e" stroke-width="2.2"/>
<line x1="415.3" y1="129.8" x2="423.8" y2="126.4" stroke="#4a4c4e" stroke-width="2.2"/>
<line x1="418.2" y1="132.9" x2="428.1" y2="130.4" stroke="#4a4c4e" stroke-width="2.2"/>
<line x1="419.9" y1="136.8" x2="430.5" y2="135.8" stroke="#4a4c4e" stroke-width="2.2"/>
<line x1="420.0" y1="141.1" x2="430.7" y2="141.7" stroke="#4a4c4e" stroke-width="2.2"/>
<line x1="418.4" y1="145.0" x2="429.2" y2="147.5" stroke="#4a4c4e" stroke-width="2.2"/>
<line x1="416.1" y1="142.5" x2="429.9" y2="148.7" stroke="#5c5e60" stroke-width="1.7"/>
<line x1="416.6" y1="141.3" x2="417.3" y2="144.3" stroke="#77797b" stroke-width="1.5"/>
<line x1="413.9" y1="146.5" x2="427.4" y2="152.5" stroke="#5c5e60" stroke-width="1.7"/>
<line x1="414.4" y1="145.3" x2="415.1" y2="148.3" stroke="#77797b" stroke-width="1.5"/>
<line x1="410.9" y1="150.0" x2="424.2" y2="155.9" stroke="#5c5e60" stroke-width="1.7"/>
<line x1="411.4" y1="148.8" x2="412.1" y2="151.8" stroke="#77797b" stroke-width="1.5"/>
<line x1="407.4" y1="153.0" x2="421.1" y2="159.1" stroke="#5c5e60" stroke-width="1.7"/>
<line x1="407.9" y1="151.8" x2="408.6" y2="154.8" stroke="#77797b" stroke-width="1.5"/>
<line x1="403.7" y1="155.7" x2="417.8" y2="162.0" stroke="#5c5e60" stroke-width="1.7"/>
<line x1="404.2" y1="154.5" x2="404.9" y2="157.5" stroke="#77797b" stroke-width="1.5"/>
<line x1="400.0" y1="158.3" x2="414.1" y2="164.6" stroke="#5c5e60" stroke-width="1.7"/>
<line x1="400.5" y1="157.1" x2="401.2" y2="160.1" stroke="#77797b" stroke-width="1.5"/>
<line x1="396.1" y1="160.9" x2="410.3" y2="167.2" stroke="#5c5e60" stroke-width="1.7"/>
<line x1="396.6" y1="159.7" x2="397.3" y2="162.7" stroke="#77797b" stroke-width="1.5"/>
<line x1="392.3" y1="163.4" x2="406.4" y2="169.7" stroke="#5c5e60" stroke-width="1.7"/>
<line x1="392.8" y1="162.2" x2="393.5" y2="165.2" stroke="#77797b" stroke-width="1.5"/>
<line x1="388.4" y1="165.9" x2="402.6" y2="172.2" stroke="#5c5e60" stroke-width="1.7"/>
<line x1="388.9" y1="164.7" x2="389.6" y2="167.7" stroke="#77797b" stroke-width="1.5"/>
<line x1="384.5" y1="168.3" x2="398.6" y2="174.6" stroke="#5c5e60" stroke-width="1.7"/>
<line x1="385.0" y1="167.1" x2="385.7" y2="170.1" stroke="#77797b" stroke-width="1.5"/>
<line x1="380.6" y1="170.7" x2="394.7" y2="177.0" stroke="#5c5e60" stroke-width="1.7"/>
<line x1="381.1" y1="169.5" x2="381.8" y2="172.5" stroke="#77797b" stroke-width="1.5"/>
<line x1="376.6" y1="173.0" x2="390.8" y2="179.4" stroke="#5c5e60" stroke-width="1.7"/>
<line x1="377.1" y1="171.8" x2="377.8" y2="174.8" stroke="#77797b" stroke-width="1.5"/>
<line x1="372.7" y1="175.5" x2="386.9" y2="181.8" stroke="#5c5e60" stroke-width="1.7"/>
<line x1="373.2" y1="174.3" x2="373.9" y2="177.3" stroke="#77797b" stroke-width="1.5"/>
<line x1="368.8" y1="178.0" x2="383.0" y2="184.3" stroke="#5c5e60" stroke-width="1.7"/>
<line x1="369.3" y1="176.8" x2="370.0" y2="179.8" stroke="#77797b" stroke-width="1.5"/>
<line x1="365.0" y1="180.5" x2="379.1" y2="186.8" stroke="#5c5e60" stroke-width="1.7"/>
<line x1="365.5" y1="179.3" x2="366.2" y2="182.3" stroke="#77797b" stroke-width="1.5"/>
<line x1="361.2" y1="183.1" x2="375.3" y2="189.4" stroke="#5c5e60" stroke-width="1.7"/>
<line x1="361.7" y1="181.9" x2="362.4" y2="184.9" stroke="#77797b" stroke-width="1.5"/>
<line x1="357.4" y1="185.7" x2="371.6" y2="192.0" stroke="#5c5e60" stroke-width="1.7"/>
<line x1="357.9" y1="184.5" x2="358.6" y2="187.5" stroke="#77797b" stroke-width="1.5"/>
<line x1="353.7" y1="188.4" x2="367.8" y2="194.7" stroke="#5c5e60" stroke-width="1.7"/>
<line x1="354.2" y1="187.2" x2="354.9" y2="190.2" stroke="#77797b" stroke-width="1.5"/>
<line x1="349.9" y1="191.0" x2="364.1" y2="197.3" stroke="#5c5e60" stroke-width="1.7"/>
<line x1="350.4" y1="189.8" x2="351.1" y2="192.8" stroke="#77797b" stroke-width="1.5"/>
<line x1="346.1" y1="193.7" x2="360.3" y2="200.0" stroke="#5c5e60" stroke-width="1.7"/>
<line x1="346.6" y1="192.5" x2="347.3" y2="195.5" stroke="#77797b" stroke-width="1.5"/>
<line x1="342.4" y1="196.3" x2="356.5" y2="202.6" stroke="#5c5e60" stroke-width="1.7"/>
<line x1="342.9" y1="195.1" x2="343.6" y2="198.1" stroke="#77797b" stroke-width="1.5"/>
<line x1="338.6" y1="198.9" x2="352.7" y2="205.2" stroke="#5c5e60" stroke-width="1.7"/>
<line x1="339.1" y1="197.7" x2="339.8" y2="200.7" stroke="#77797b" stroke-width="1.5"/>
<line x1="334.8" y1="201.5" x2="348.9" y2="207.8" stroke="#5c5e60" stroke-width="1.7"/>
<line x1="335.3" y1="200.3" x2="336.0" y2="203.3" stroke="#77797b" stroke-width="1.5"/>
<line x1="331.0" y1="204.1" x2="344.9" y2="210.3" stroke="#5c5e60" stroke-width="1.7"/>
<line x1="331.5" y1="202.9" x2="332.2" y2="205.9" stroke="#77797b" stroke-width="1.5"/>
<line x1="327.2" y1="206.7" x2="341.0" y2="212.9" stroke="#5c5e60" stroke-width="1.7"/>
<line x1="327.7" y1="205.5" x2="328.4" y2="208.5" stroke="#77797b" stroke-width="1.5"/>
<line x1="323.4" y1="209.3" x2="337.1" y2="215.4" stroke="#5c5e60" stroke-width="1.7"/>
<line x1="323.9" y1="208.1" x2="324.6" y2="211.1" stroke="#77797b" stroke-width="1.5"/>
<line x1="319.6" y1="211.9" x2="333.2" y2="217.9" stroke="#5c5e60" stroke-width="1.7"/>
<line x1="320.1" y1="210.7" x2="320.8" y2="213.7" stroke="#77797b" stroke-width="1.5"/>
<line x1="315.8" y1="214.5" x2="329.2" y2="220.5" stroke="#5c5e60" stroke-width="1.7"/>
<line x1="316.3" y1="213.3" x2="317.0" y2="216.3" stroke="#77797b" stroke-width="1.5"/>
<line x1="312.0" y1="217.0" x2="325.3" y2="223.0" stroke="#5c5e60" stroke-width="1.7"/>
<line x1="312.5" y1="215.8" x2="313.2" y2="218.8" stroke="#77797b" stroke-width="1.5"/>
<line x1="308.1" y1="219.6" x2="321.4" y2="225.5" stroke="#5c5e60" stroke-width="1.7"/>
<line x1="308.6" y1="218.4" x2="309.3" y2="221.4" stroke="#77797b" stroke-width="1.5"/>
<line x1="304.3" y1="222.1" x2="317.5" y2="228.0" stroke="#5c5e60" stroke-width="1.7"/>
<line x1="304.8" y1="220.9" x2="305.5" y2="223.9" stroke="#77797b" stroke-width="1.5"/>
<line x1="300.4" y1="224.6" x2="313.7" y2="230.5" stroke="#5c5e60" stroke-width="1.7"/>
<line x1="300.9" y1="223.4" x2="301.6" y2="226.4" stroke="#77797b" stroke-width="1.5"/>
<line x1="296.6" y1="227.1" x2="309.8" y2="233.0" stroke="#5c5e60" stroke-width="1.7"/>
<line x1="297.1" y1="225.9" x2="297.8" y2="228.9" stroke="#77797b" stroke-width="1.5"/>
<line x1="292.6" y1="229.5" x2="306.0" y2="235.4" stroke="#5c5e60" stroke-width="1.7"/>
<line x1="293.1" y1="228.3" x2="293.8" y2="231.3" stroke="#77797b" stroke-width="1.5"/>
<line x1="288.7" y1="231.8" x2="302.2" y2="237.8" stroke="#5c5e60" stroke-width="1.7"/>
<line x1="289.2" y1="230.6" x2="289.9" y2="233.6" stroke="#77797b" stroke-width="1.5"/>
<line x1="284.7" y1="234.1" x2="298.4" y2="240.2" stroke="#5c5e60" stroke-width="1.7"/>
<line x1="285.2" y1="232.9" x2="285.9" y2="235.9" stroke="#77797b" stroke-width="1.5"/>
<line x1="280.6" y1="236.2" x2="294.7" y2="242.5" stroke="#5c5e60" stroke-width="1.7"/>
<line x1="281.1" y1="235.0" x2="281.8" y2="238.0" stroke="#77797b" stroke-width="1.5"/>
<line x1="276.4" y1="238.2" x2="290.6" y2="244.5" stroke="#5c5e60" stroke-width="1.7"/>
<line x1="276.9" y1="237.0" x2="277.6" y2="240.0" stroke="#77797b" stroke-width="1.5"/>
<line x1="272.3" y1="240.1" x2="286.4" y2="246.4" stroke="#5c5e60" stroke-width="1.7"/>
<line x1="272.8" y1="238.9" x2="273.5" y2="241.9" stroke="#77797b" stroke-width="1.5"/>
<line x1="268.0" y1="241.9" x2="282.2" y2="248.2" stroke="#5c5e60" stroke-width="1.7"/>
<line x1="268.5" y1="240.7" x2="269.2" y2="243.7" stroke="#77797b" stroke-width="1.5"/>
<line x1="263.6" y1="243.3" x2="277.8" y2="249.6" stroke="#5c5e60" stroke-width="1.7"/>
<line x1="264.1" y1="242.1" x2="264.8" y2="245.1" stroke="#77797b" stroke-width="1.5"/>
<path d="M561.0,439.5 560.4,439.0 559.2,438.0 557.4,436.5 555.1,434.5 552.9,432.3 551.0,430.0 549.2,427.6 547.8,424.9 546.5,422.2 545.4,419.5 544.6,416.7 543.9,413.8 543.7,410.8 543.7,407.6 544.1,404.2 544.9,400.8 545.8,397.2 547.0,393.8 548.4,390.2 550.1,386.8 552.0,383.3 554.2,380.0 556.8,376.8 559.7,373.7 562.8,370.8 566.1,368.1 569.7,365.6 573.4,363.3 578.4,360.7 584.5,357.6 591.8,354.2 600.3,350.5 609.4,346.6 619.2,342.5 629.7,338.3 640.8,334.0 652.0,329.6 663.2,325.1 674.4,320.5 685.6,315.9 694.9,312.0 702.2,309.0 707.6,306.7 711.0,305.2 714.2,304.2 717.2,303.6 720.0,303.5 722.6,303.8 725.1,304.4 727.5,305.2 729.9,306.2 732.1,307.5 733.8,308.5 734.9,309.2 735.5,309.5 735.5,309.5 735.8,309.9 736.4,310.6 737.4,311.8 738.6,313.2 739.7,314.9 740.5,316.6 741.2,318.5 741.6,320.5 741.8,322.6 741.8,324.9 741.4,327.4 740.9,329.9 740.2,332.2 739.3,334.1 738.3,335.7 737.2,337.0 735.8,338.5 734.2,340.2 732.2,342.2 730.1,344.4 727.2,346.8 723.6,349.5 719.2,352.4 714.2,355.6 709.2,358.8 704.3,362.0 699.4,365.3 694.7,368.5 688.9,372.4 682.1,376.9 674.4,382.0 665.6,387.8 656.6,393.6 647.2,399.7 637.5,406.0 627.5,412.4 618.5,418.2 610.5,423.3 603.5,427.7 597.5,431.4 592.0,434.6 586.9,437.2 582.4,439.3 578.3,440.8 574.6,441.7 571.1,442.0 568.0,441.8 565.2,440.8 563.1,440.2 561.7,439.7 561.0,439.5Z M564.3,426.1 564.1,425.6 563.8,424.7 563.2,423.2 562.5,421.3 562.1,419.1 562.0,416.5 562.1,413.6 562.4,410.4 562.9,407.2 563.6,404.2 564.3,401.4 565.2,398.6 566.3,396.0 567.7,393.4 569.3,390.9 571.2,388.6 573.5,386.2 576.1,383.7 579.2,381.2 582.7,378.8 588.1,375.7 595.5,372.1 604.9,367.9 616.2,363.2 626.5,359.0 635.8,355.4 644.0,352.3 651.3,349.8 658.5,347.1 665.8,344.2 673.1,341.2 680.5,338.0 687.3,334.9 693.7,332.0 699.5,329.2 704.9,326.5 709.3,324.4 712.8,323.0 715.4,322.1 717.0,321.9 718.5,321.8 719.6,321.8 720.6,322.1 721.4,322.4 721.9,322.7 722.3,322.9 722.5,323.0 722.5,323.0 722.4,323.3 722.2,323.8 721.9,324.7 721.6,325.8 721.0,327.1 720.2,328.4 719.2,329.9 717.9,331.4 715.9,333.4 713.0,335.8 709.2,338.5 704.7,341.7 699.7,345.0 694.2,348.4 688.4,352.1 682.1,355.8 676.1,359.6 670.5,363.3 665.1,366.9 660.1,370.6 653.0,375.5 643.9,381.8 632.8,389.4 619.7,398.4 608.6,405.7 599.4,411.5 592.3,415.7 587.2,418.4 582.7,420.6 578.9,422.4 575.8,423.8 573.2,424.8 571.0,425.5 569.2,426.0 567.5,426.2 566.2,426.2 565.3,426.1 564.6,426.1 564.3,426.1Z" fill="#141516" fill-rule="evenodd" stroke="#0e0e0e" stroke-width="1.4" stroke-linejoin="round"/>
<line x1="557.5" y1="436.5" x2="573.3" y2="442.2" stroke="#58595b" stroke-width="2.6"/>
<line x1="560.0" y1="437.4" x2="569.9" y2="441.0" stroke="#999b9d" stroke-width="1.9"/>
<line x1="551.4" y1="430.4" x2="567.2" y2="436.1" stroke="#58595b" stroke-width="3.5"/>
<line x1="553.9" y1="431.3" x2="563.7" y2="434.9" stroke="#999b9d" stroke-width="2.6"/>
<line x1="546.9" y1="422.9" x2="562.7" y2="428.7" stroke="#58595b" stroke-width="4.6"/>
<line x1="549.5" y1="423.8" x2="559.3" y2="427.4" stroke="#999b9d" stroke-width="3.3"/>
<line x1="544.3" y1="414.7" x2="562.3" y2="422.7" stroke="#58595b" stroke-width="5.4"/>
<line x1="547.2" y1="415.9" x2="558.2" y2="420.9" stroke="#999b9d" stroke-width="3.9"/>
<line x1="544.1" y1="406.0" x2="561.1" y2="413.6" stroke="#58595b" stroke-width="6.0"/>
<line x1="546.8" y1="407.2" x2="557.3" y2="411.9" stroke="#999b9d" stroke-width="4.4"/>
<line x1="546.0" y1="397.5" x2="562.4" y2="404.9" stroke="#58595b" stroke-width="6.2"/>
<line x1="548.6" y1="398.7" x2="558.8" y2="403.2" stroke="#999b9d" stroke-width="4.5"/>
<line x1="549.1" y1="389.4" x2="564.9" y2="396.7" stroke="#58595b" stroke-width="6.3"/>
<line x1="551.6" y1="390.6" x2="561.4" y2="395.1" stroke="#999b9d" stroke-width="4.5"/>
<line x1="553.3" y1="381.8" x2="569.2" y2="389.5" stroke="#58595b" stroke-width="6.2"/>
<line x1="555.8" y1="383.0" x2="565.7" y2="387.8" stroke="#999b9d" stroke-width="4.4"/>
<line x1="558.7" y1="375.0" x2="575.1" y2="383.4" stroke="#58595b" stroke-width="6.0"/>
<line x1="561.3" y1="376.4" x2="571.4" y2="381.6" stroke="#999b9d" stroke-width="4.3"/>
<line x1="565.1" y1="369.1" x2="581.8" y2="378.3" stroke="#58595b" stroke-width="5.7"/>
<line x1="567.8" y1="370.6" x2="578.1" y2="376.2" stroke="#999b9d" stroke-width="4.1"/>
<line x1="572.3" y1="364.2" x2="589.3" y2="374.2" stroke="#58595b" stroke-width="5.4"/>
<line x1="575.0" y1="365.8" x2="585.4" y2="372.0" stroke="#999b9d" stroke-width="3.9"/>
<line x1="579.9" y1="360.1" x2="596.6" y2="370.7" stroke="#58595b" stroke-width="5.3"/>
<line x1="582.6" y1="361.8" x2="592.9" y2="368.3" stroke="#999b9d" stroke-width="3.8"/>
<line x1="587.7" y1="356.3" x2="604.0" y2="367.4" stroke="#58595b" stroke-width="5.4"/>
<line x1="590.3" y1="358.1" x2="600.3" y2="364.9" stroke="#999b9d" stroke-width="3.9"/>
<line x1="595.6" y1="352.7" x2="611.5" y2="364.2" stroke="#58595b" stroke-width="5.4"/>
<line x1="598.2" y1="354.6" x2="607.9" y2="361.7" stroke="#999b9d" stroke-width="3.9"/>
<line x1="603.6" y1="349.2" x2="618.9" y2="361.2" stroke="#58595b" stroke-width="5.5"/>
<line x1="606.0" y1="351.1" x2="615.5" y2="358.5" stroke="#999b9d" stroke-width="4.0"/>
<line x1="611.6" y1="345.8" x2="626.7" y2="358.0" stroke="#58595b" stroke-width="5.5"/>
<line x1="614.0" y1="347.8" x2="623.3" y2="355.3" stroke="#999b9d" stroke-width="4.0"/>
<line x1="619.7" y1="342.5" x2="634.9" y2="354.8" stroke="#58595b" stroke-width="5.5"/>
<line x1="622.1" y1="344.5" x2="631.4" y2="352.1" stroke="#999b9d" stroke-width="3.9"/>
<line x1="627.7" y1="339.3" x2="643.1" y2="351.7" stroke="#58595b" stroke-width="5.5"/>
<line x1="630.2" y1="341.3" x2="639.7" y2="348.9" stroke="#999b9d" stroke-width="3.9"/>
<line x1="635.8" y1="336.1" x2="651.2" y2="348.6" stroke="#58595b" stroke-width="5.4"/>
<line x1="638.3" y1="338.1" x2="647.8" y2="345.8" stroke="#999b9d" stroke-width="3.9"/>
<line x1="643.9" y1="332.9" x2="659.3" y2="345.4" stroke="#58595b" stroke-width="5.5"/>
<line x1="646.4" y1="334.9" x2="655.9" y2="342.6" stroke="#999b9d" stroke-width="3.9"/>
<line x1="652.0" y1="329.7" x2="667.4" y2="342.2" stroke="#58595b" stroke-width="5.5"/>
<line x1="654.5" y1="331.7" x2="664.0" y2="339.4" stroke="#999b9d" stroke-width="3.9"/>
<line x1="660.1" y1="326.5" x2="675.5" y2="339.0" stroke="#58595b" stroke-width="5.5"/>
<line x1="662.6" y1="328.5" x2="672.0" y2="336.2" stroke="#999b9d" stroke-width="3.9"/>
<line x1="668.2" y1="323.2" x2="683.5" y2="335.7" stroke="#58595b" stroke-width="5.5"/>
<line x1="670.6" y1="325.2" x2="680.1" y2="332.9" stroke="#999b9d" stroke-width="4.0"/>
<line x1="676.2" y1="320.0" x2="691.3" y2="332.1" stroke="#58595b" stroke-width="5.5"/>
<line x1="678.6" y1="321.9" x2="687.9" y2="329.4" stroke="#999b9d" stroke-width="4.0"/>
<line x1="684.3" y1="316.6" x2="698.9" y2="328.5" stroke="#58595b" stroke-width="5.5"/>
<line x1="686.6" y1="318.5" x2="695.6" y2="325.8" stroke="#999b9d" stroke-width="4.0"/>
<line x1="692.3" y1="313.3" x2="706.5" y2="324.8" stroke="#58595b" stroke-width="5.5"/>
<line x1="694.6" y1="315.1" x2="703.3" y2="322.2" stroke="#999b9d" stroke-width="4.0"/>
<line x1="700.3" y1="309.9" x2="714.6" y2="321.5" stroke="#58595b" stroke-width="5.5"/>
<line x1="702.6" y1="311.8" x2="711.4" y2="318.9" stroke="#999b9d" stroke-width="4.0"/>
<line x1="708.3" y1="306.6" x2="721.4" y2="317.1" stroke="#58595b" stroke-width="5.6"/>
<line x1="710.4" y1="308.2" x2="718.5" y2="314.8" stroke="#999b9d" stroke-width="4.0"/>
<line x1="716.6" y1="303.9" x2="729.6" y2="314.5" stroke="#58595b" stroke-width="4.3"/>
<line x1="718.7" y1="305.6" x2="726.8" y2="312.1" stroke="#999b9d" stroke-width="3.1"/>
<line x1="725.2" y1="304.5" x2="738.2" y2="315.1" stroke="#58595b" stroke-width="2.6"/>
<line x1="727.3" y1="306.2" x2="735.4" y2="312.7" stroke="#999b9d" stroke-width="1.9"/>
<line x1="719.2" y1="311.0" x2="726.0" y2="307.1" stroke="#4a4c4e" stroke-width="2.2"/>
<line x1="722.8" y1="313.3" x2="731.3" y2="309.9" stroke="#4a4c4e" stroke-width="2.2"/>
<line x1="725.7" y1="316.4" x2="735.6" y2="313.9" stroke="#4a4c4e" stroke-width="2.2"/>
<line x1="727.4" y1="320.3" x2="738.0" y2="319.3" stroke="#4a4c4e" stroke-width="2.2"/>
<line x1="727.5" y1="324.6" x2="738.2" y2="325.2" stroke="#4a4c4e" stroke-width="2.2"/>
<line x1="725.9" y1="328.5" x2="736.7" y2="331.0" stroke="#4a4c4e" stroke-width="2.2"/>
<line x1="723.6" y1="326.0" x2="737.4" y2="332.2" stroke="#5c5e60" stroke-width="1.7"/>
<line x1="724.1" y1="324.8" x2="724.8" y2="327.8" stroke="#77797b" stroke-width="1.5"/>
<line x1="721.4" y1="330.0" x2="734.9" y2="336.0" stroke="#5c5e60" stroke-width="1.7"/>
<line x1="721.9" y1="328.8" x2="722.6" y2="331.8" stroke="#77797b" stroke-width="1.5"/>
<line x1="718.4" y1="333.5" x2="731.7" y2="339.4" stroke="#5c5e60" stroke-width="1.7"/>
<line x1="718.9" y1="332.3" x2="719.6" y2="335.3" stroke="#77797b" stroke-width="1.5"/>
<line x1="714.9" y1="336.5" x2="728.6" y2="342.6" stroke="#5c5e60" stroke-width="1.7"/>
<line x1="715.4" y1="335.3" x2="716.1" y2="338.3" stroke="#77797b" stroke-width="1.5"/>
<line x1="711.2" y1="339.2" x2="725.3" y2="345.5" stroke="#5c5e60" stroke-width="1.7"/>
<line x1="711.7" y1="338.0" x2="712.4" y2="341.0" stroke="#77797b" stroke-width="1.5"/>
<line x1="707.5" y1="341.8" x2="721.6" y2="348.1" stroke="#5c5e60" stroke-width="1.7"/>
<line x1="708.0" y1="340.6" x2="708.7" y2="343.6" stroke="#77797b" stroke-width="1.5"/>
<line x1="703.6" y1="344.4" x2="717.8" y2="350.7" stroke="#5c5e60" stroke-width="1.7"/>
<line x1="704.1" y1="343.2" x2="704.8" y2="346.2" stroke="#77797b" stroke-width="1.5"/>
<line x1="699.8" y1="346.9" x2="713.9" y2="353.2" stroke="#5c5e60" stroke-width="1.7"/>
<line x1="700.3" y1="345.7" x2="701.0" y2="348.7" stroke="#77797b" stroke-width="1.5"/>
<line x1="695.9" y1="349.4" x2="710.1" y2="355.7" stroke="#5c5e60" stroke-width="1.7"/>
<line x1="696.4" y1="348.2" x2="697.1" y2="351.2" stroke="#77797b" stroke-width="1.5"/>
<line x1="692.0" y1="351.8" x2="706.1" y2="358.1" stroke="#5c5e60" stroke-width="1.7"/>
<line x1="692.5" y1="350.6" x2="693.2" y2="353.6" stroke="#77797b" stroke-width="1.5"/>
<line x1="688.1" y1="354.2" x2="702.2" y2="360.5" stroke="#5c5e60" stroke-width="1.7"/>
<line x1="688.6" y1="353.0" x2="689.3" y2="356.0" stroke="#77797b" stroke-width="1.5"/>
<line x1="684.1" y1="356.5" x2="698.3" y2="362.9" stroke="#5c5e60" stroke-width="1.7"/>
<line x1="684.6" y1="355.3" x2="685.3" y2="358.3" stroke="#77797b" stroke-width="1.5"/>
<line x1="680.2" y1="359.0" x2="694.4" y2="365.3" stroke="#5c5e60" stroke-width="1.7"/>
<line x1="680.7" y1="357.8" x2="681.4" y2="360.8" stroke="#77797b" stroke-width="1.5"/>
<line x1="676.3" y1="361.5" x2="690.5" y2="367.8" stroke="#5c5e60" stroke-width="1.7"/>
<line x1="676.8" y1="360.3" x2="677.5" y2="363.3" stroke="#77797b" stroke-width="1.5"/>
<line x1="672.5" y1="364.0" x2="686.6" y2="370.3" stroke="#5c5e60" stroke-width="1.7"/>
<line x1="673.0" y1="362.8" x2="673.7" y2="365.8" stroke="#77797b" stroke-width="1.5"/>
<line x1="668.7" y1="366.6" x2="682.8" y2="372.9" stroke="#5c5e60" stroke-width="1.7"/>
<line x1="669.2" y1="365.4" x2="669.9" y2="368.4" stroke="#77797b" stroke-width="1.5"/>
<line x1="664.9" y1="369.2" x2="679.1" y2="375.5" stroke="#5c5e60" stroke-width="1.7"/>
<line x1="665.4" y1="368.0" x2="666.1" y2="371.0" stroke="#77797b" stroke-width="1.5"/>
<line x1="661.2" y1="371.9" x2="675.3" y2="378.2" stroke="#5c5e60" stroke-width="1.7"/>
<line x1="661.7" y1="370.7" x2="662.4" y2="373.7" stroke="#77797b" stroke-width="1.5"/>
<line x1="657.4" y1="374.5" x2="671.6" y2="380.8" stroke="#5c5e60" stroke-width="1.7"/>
<line x1="657.9" y1="373.3" x2="658.6" y2="376.3" stroke="#77797b" stroke-width="1.5"/>
<line x1="653.6" y1="377.2" x2="667.8" y2="383.5" stroke="#5c5e60" stroke-width="1.7"/>
<line x1="654.1" y1="376.0" x2="654.8" y2="379.0" stroke="#77797b" stroke-width="1.5"/>
<line x1="649.9" y1="379.8" x2="664.0" y2="386.1" stroke="#5c5e60" stroke-width="1.7"/>
<line x1="650.4" y1="378.6" x2="651.1" y2="381.6" stroke="#77797b" stroke-width="1.5"/>
<line x1="646.1" y1="382.4" x2="660.2" y2="388.7" stroke="#5c5e60" stroke-width="1.7"/>
<line x1="646.6" y1="381.2" x2="647.3" y2="384.2" stroke="#77797b" stroke-width="1.5"/>
<line x1="642.3" y1="385.0" x2="656.4" y2="391.3" stroke="#5c5e60" stroke-width="1.7"/>
<line x1="642.8" y1="383.8" x2="643.5" y2="386.8" stroke="#77797b" stroke-width="1.5"/>
<line x1="638.5" y1="387.6" x2="652.4" y2="393.8" stroke="#5c5e60" stroke-width="1.7"/>
<line x1="639.0" y1="386.4" x2="639.7" y2="389.4" stroke="#77797b" stroke-width="1.5"/>
<line x1="634.7" y1="390.2" x2="648.5" y2="396.4" stroke="#5c5e60" stroke-width="1.7"/>
<line x1="635.2" y1="389.0" x2="635.9" y2="392.0" stroke="#77797b" stroke-width="1.5"/>
<line x1="630.9" y1="392.8" x2="644.6" y2="398.9" stroke="#5c5e60" stroke-width="1.7"/>
<line x1="631.4" y1="391.6" x2="632.1" y2="394.6" stroke="#77797b" stroke-width="1.5"/>
<line x1="627.1" y1="395.4" x2="640.7" y2="401.4" stroke="#5c5e60" stroke-width="1.7"/>
<line x1="627.6" y1="394.2" x2="628.3" y2="397.2" stroke="#77797b" stroke-width="1.5"/>
<line x1="623.3" y1="398.0" x2="636.7" y2="404.0" stroke="#5c5e60" stroke-width="1.7"/>
<line x1="623.8" y1="396.8" x2="624.5" y2="399.8" stroke="#77797b" stroke-width="1.5"/>
<line x1="619.5" y1="400.5" x2="632.8" y2="406.5" stroke="#5c5e60" stroke-width="1.7"/>
<line x1="620.0" y1="399.3" x2="620.7" y2="402.3" stroke="#77797b" stroke-width="1.5"/>
<line x1="615.6" y1="403.1" x2="628.9" y2="409.0" stroke="#5c5e60" stroke-width="1.7"/>
<line x1="616.1" y1="401.9" x2="616.8" y2="404.9" stroke="#77797b" stroke-width="1.5"/>
<line x1="611.8" y1="405.6" x2="625.0" y2="411.5" stroke="#5c5e60" stroke-width="1.7"/>
<line x1="612.3" y1="404.4" x2="613.0" y2="407.4" stroke="#77797b" stroke-width="1.5"/>
<line x1="607.9" y1="408.1" x2="621.2" y2="414.0" stroke="#5c5e60" stroke-width="1.7"/>
<line x1="608.4" y1="406.9" x2="609.1" y2="409.9" stroke="#77797b" stroke-width="1.5"/>
<line x1="604.1" y1="410.6" x2="617.3" y2="416.5" stroke="#5c5e60" stroke-width="1.7"/>
<line x1="604.6" y1="409.4" x2="605.3" y2="412.4" stroke="#77797b" stroke-width="1.5"/>
<line x1="600.1" y1="413.0" x2="613.5" y2="418.9" stroke="#5c5e60" stroke-width="1.7"/>
<line x1="600.6" y1="411.8" x2="601.3" y2="414.8" stroke="#77797b" stroke-width="1.5"/>
<line x1="596.2" y1="415.3" x2="609.7" y2="421.3" stroke="#5c5e60" stroke-width="1.7"/>
<line x1="596.7" y1="414.1" x2="597.4" y2="417.1" stroke="#77797b" stroke-width="1.5"/>
<line x1="592.2" y1="417.6" x2="605.9" y2="423.7" stroke="#5c5e60" stroke-width="1.7"/>
<line x1="592.7" y1="416.4" x2="593.4" y2="419.4" stroke="#77797b" stroke-width="1.5"/>
<line x1="588.1" y1="419.7" x2="602.2" y2="426.0" stroke="#5c5e60" stroke-width="1.7"/>
<line x1="588.6" y1="418.5" x2="589.3" y2="421.5" stroke="#77797b" stroke-width="1.5"/>
<line x1="583.9" y1="421.7" x2="598.1" y2="428.0" stroke="#5c5e60" stroke-width="1.7"/>
<line x1="584.4" y1="420.5" x2="585.1" y2="423.5" stroke="#77797b" stroke-width="1.5"/>
<line x1="579.8" y1="423.6" x2="593.9" y2="429.9" stroke="#5c5e60" stroke-width="1.7"/>
<line x1="580.3" y1="422.4" x2="581.0" y2="425.4" stroke="#77797b" stroke-width="1.5"/>
<line x1="575.5" y1="425.4" x2="589.7" y2="431.7" stroke="#5c5e60" stroke-width="1.7"/>
<line x1="576.0" y1="424.2" x2="576.7" y2="427.2" stroke="#77797b" stroke-width="1.5"/>
<line x1="571.1" y1="426.8" x2="585.3" y2="433.1" stroke="#5c5e60" stroke-width="1.7"/>
<line x1="571.6" y1="425.6" x2="572.3" y2="428.6" stroke="#77797b" stroke-width="1.5"/>
<line x1="288.0" y1="225.7" x2="306.0" y2="236.5" stroke="#fff" stroke-width="2.0"/>
<line x1="404.0" y1="136.9" x2="424.0" y2="148.8" stroke="#fff" stroke-width="2.0"/>
<line x1="595.0" y1="411.8" x2="613.0" y2="422.5" stroke="#fff" stroke-width="2.0"/>
<line x1="712.0" y1="323.0" x2="733.0" y2="335.6" stroke="#fff" stroke-width="2.0"/>
<g transform="translate(56.3 87.3) rotate(30.8)"><path d="M0.0 -36.6 L-1.4 -36.6 A22.0 36.6 0 0 0 -1.4 36.6 L0.0 36.6 A22.0 36.6 0 0 0 0.0 -36.6Z" fill="#1d1f21" stroke="#1b1d1f" stroke-width="1.0" stroke-linejoin="round"/><ellipse cx="0.0" cy="0" rx="22.0" ry="36.6" fill="#232527" stroke="#1b1d1f" stroke-width="1.0"/><ellipse cx="0.0" cy="0" rx="21.1" ry="35.2" fill="#6a6e72" stroke="#1b1d1f" stroke-width="0.8" /><ellipse cx="0.0" cy="0" rx="19.6" ry="32.6" fill="none" stroke="#33363a" stroke-width="0.7" /><path d="M-3.2 -2.8 L-3.2 2.8 L3.2 2.8 L3.2 -2.8" fill="#5d6165" stroke="#1a1c1e" stroke-width="1.0" transform="translate(-10.7 -22.9) rotate(-38)"/><path d="M-3.2 -2.5 L-3.2 2.5 L3.2 2.5 L3.2 -2.5" fill="#5d6165" stroke="#1a1c1e" stroke-width="1.0" transform="translate(13.8 17.9) rotate(128)"/><path d="M-6.5 -1.8 L-6.5 1.8 L6.5 1.8 L6.5 -1.8" fill="#5d6165" stroke="#1a1c1e" stroke-width="1.0" transform="translate(-11.6 21.8) rotate(221.6)"/><path d="M5.5 -26.5 l4 1.6 M14.5 -12 l4 1.6" stroke="#1a1c1e" stroke-width="1.1" fill="none"/></g>
<g transform="translate(95.4 110.4) rotate(30.8)"><line x1="-13" y1="0" x2="15" y2="0" stroke="#666" stroke-width="0.8"/><rect x="-7.5" y="-3.3" width="4.5" height="6.6" rx="1.2" fill="#101010"/><rect x="-4" y="-2.2" width="11.5" height="4.4" rx="0.8" fill="#1a1a1a"/><rect x="6.2" y="-2.0" width="1.3" height="4.0" fill="#777"/></g>
<g transform="translate(123.2 127.3) rotate(30.8)"><path d="M0.0 -12.8 L-2.0 -12.8 A7.9 12.8 0 0 0 -2.0 12.8 L0.0 12.8 A7.9 12.8 0 0 0 0.0 -12.8Z" fill="#2b3036" stroke="#1b1d1f" stroke-width="1.0" stroke-linejoin="round"/><ellipse cx="0.0" cy="0" rx="7.9" ry="12.8" fill="#56606a" stroke="#1b1d1f" stroke-width="1.0"/><ellipse cx="0.0" cy="0" rx="3.2" ry="5.2" fill="#3a4148" stroke="#1b1d1f" stroke-width="0.8" /><ellipse cx="0.0" cy="0" rx="1.6" ry="2.6" fill="#20242a" stroke="#1b1d1f" stroke-width="0.5" /></g>
<g transform="translate(175.5 158.7) rotate(30.8)"><path d="M0.0 -38.2 L-14.5 -38.2 A21.6 38.2 0 0 0 -14.5 38.2 L0.0 38.2 A21.6 38.2 0 0 0 0.0 -38.2Z" fill="#22262a" stroke="#1b1d1f" stroke-width="1.3" stroke-linejoin="round"/><line x1="-16.0" y1="-38.1" x2="-1.5" y2="-38.1" stroke="#58626c" stroke-width="1.9"/><line x1="-18.9" y1="-37.4" x2="-4.4" y2="-37.4" stroke="#58626c" stroke-width="1.9"/><line x1="-21.7" y1="-36.0" x2="-7.2" y2="-36.0" stroke="#58626c" stroke-width="1.9"/><line x1="-24.4" y1="-33.9" x2="-9.9" y2="-33.9" stroke="#58626c" stroke-width="1.9"/><line x1="-26.9" y1="-31.2" x2="-12.4" y2="-31.2" stroke="#58626c" stroke-width="1.9"/><line x1="-29.2" y1="-27.9" x2="-14.7" y2="-27.9" stroke="#58626c" stroke-width="1.9"/><line x1="-31.2" y1="-24.1" x2="-16.7" y2="-24.1" stroke="#58626c" stroke-width="1.9"/><line x1="-32.9" y1="-19.8" x2="-18.4" y2="-19.8" stroke="#58626c" stroke-width="1.9"/><line x1="-34.3" y1="-15.2" x2="-19.8" y2="-15.2" stroke="#58626c" stroke-width="1.9"/><line x1="-35.3" y1="-10.3" x2="-20.8" y2="-10.3" stroke="#58626c" stroke-width="1.9"/><line x1="-35.9" y1="-5.2" x2="-21.4" y2="-5.2" stroke="#58626c" stroke-width="1.9"/><line x1="-36.1" y1="0.0" x2="-21.6" y2="0.0" stroke="#58626c" stroke-width="1.9"/><line x1="-35.9" y1="5.2" x2="-21.4" y2="5.2" stroke="#58626c" stroke-width="1.9"/><line x1="-35.3" y1="10.3" x2="-20.8" y2="10.3" stroke="#58626c" stroke-width="1.9"/><line x1="-34.3" y1="15.2" x2="-19.8" y2="15.2" stroke="#58626c" stroke-width="1.9"/><line x1="-32.9" y1="19.8" x2="-18.4" y2="19.8" stroke="#58626c" stroke-width="1.9"/><line x1="-31.2" y1="24.1" x2="-16.7" y2="24.1" stroke="#58626c" stroke-width="1.9"/><line x1="-29.2" y1="27.9" x2="-14.7" y2="27.9" stroke="#58626c" stroke-width="1.9"/><line x1="-26.9" y1="31.2" x2="-12.4" y2="31.2" stroke="#58626c" stroke-width="1.9"/><line x1="-24.4" y1="33.9" x2="-9.9" y2="33.9" stroke="#58626c" stroke-width="1.9"/><line x1="-21.7" y1="36.0" x2="-7.2" y2="36.0" stroke="#58626c" stroke-width="1.9"/><line x1="-18.9" y1="37.4" x2="-4.4" y2="37.4" stroke="#58626c" stroke-width="1.9"/><line x1="-16.0" y1="38.1" x2="-1.5" y2="38.1" stroke="#58626c" stroke-width="1.9"/><ellipse cx="0.0" cy="0" rx="21.6" ry="38.2" fill="#22262a" stroke="#1b1d1f" stroke-width="1.3"/><path d="M-14.5 -38.2 A21.6 38.2 0 0 0 -14.5 38.2" fill="none" stroke="#121416" stroke-width="2.4" stroke-dasharray="2.6 2.2"/><ellipse cx="0.0" cy="0" rx="21.6" ry="38.2" fill="#1c1f23" stroke="#1b1d1f" stroke-width="1.3" /><line x1="1.5" y1="-36.6" x2="-8.3" y2="-30.6" stroke="#56606a" stroke-width="1.5"/><line x1="4.4" y1="-35.9" x2="-5.8" y2="-30.0" stroke="#56606a" stroke-width="1.5"/><line x1="7.2" y1="-34.4" x2="-3.4" y2="-28.8" stroke="#56606a" stroke-width="1.5"/><line x1="9.9" y1="-32.2" x2="-1.2" y2="-26.9" stroke="#56606a" stroke-width="1.5"/><line x1="12.4" y1="-29.4" x2="0.9" y2="-24.6" stroke="#56606a" stroke-width="1.5"/><line x1="14.7" y1="-26.0" x2="2.8" y2="-21.7" stroke="#56606a" stroke-width="1.5"/><line x1="16.6" y1="-22.0" x2="4.4" y2="-18.4" stroke="#56606a" stroke-width="1.5"/><line x1="18.2" y1="-17.6" x2="5.7" y2="-14.7" stroke="#56606a" stroke-width="1.5"/><line x1="19.4" y1="-12.8" x2="6.8" y2="-10.7" stroke="#56606a" stroke-width="1.5"/><line x1="20.3" y1="-7.8" x2="7.4" y2="-6.5" stroke="#56606a" stroke-width="1.5"/><line x1="20.7" y1="-2.6" x2="7.8" y2="-2.2" stroke="#56606a" stroke-width="1.5"/><line x1="20.7" y1="2.6" x2="7.8" y2="2.2" stroke="#56606a" stroke-width="1.5"/><line x1="20.3" y1="7.8" x2="7.4" y2="6.5" stroke="#56606a" stroke-width="1.5"/><line x1="19.4" y1="12.8" x2="6.8" y2="10.7" stroke="#56606a" stroke-width="1.5"/><line x1="18.2" y1="17.6" x2="5.7" y2="14.7" stroke="#56606a" stroke-width="1.5"/><line x1="16.6" y1="22.0" x2="4.4" y2="18.4" stroke="#56606a" stroke-width="1.5"/><line x1="14.7" y1="26.0" x2="2.8" y2="21.7" stroke="#56606a" stroke-width="1.5"/><line x1="12.4" y1="29.4" x2="0.9" y2="24.6" stroke="#56606a" stroke-width="1.5"/><line x1="9.9" y1="32.2" x2="-1.2" y2="26.9" stroke="#56606a" stroke-width="1.5"/><line x1="7.2" y1="34.4" x2="-3.4" y2="28.8" stroke="#56606a" stroke-width="1.5"/><line x1="4.4" y1="35.9" x2="-5.8" y2="30.0" stroke="#56606a" stroke-width="1.5"/><line x1="1.5" y1="36.6" x2="-8.3" y2="30.6" stroke="#56606a" stroke-width="1.5"/><clipPath id="wc175"><ellipse cx="0" cy="0" rx="20.1" ry="35.7"/></clipPath><g clip-path="url(#wc175)"><ellipse cx="-9.5" cy="0" rx="17.3" ry="30.7" fill="#55606a" stroke="#1b1d1f" stroke-width="1.0" /><path d="M-7.5 -12.0 L-3.0 -27.7 L-9.0 -21.7Z" fill="#fff" stroke="#1c2024" stroke-width="0.7"/><path d="M-11.5 12.0 L-16.0 27.7 L-10.0 21.7Z" fill="#fff" stroke="#1c2024" stroke-width="0.7"/></g><path d="M2.5 -11.2 L-8.5 -11.2 A6.3 11.2 0 0 0 -8.5 11.2 L2.5 11.2 A6.3 11.2 0 0 0 2.5 -11.2Z" fill="#454e57" stroke="#1b1d1f" stroke-width="1.1" stroke-linejoin="round"/><ellipse cx="2.5" cy="0" rx="6.3" ry="11.2" fill="#67727d" stroke="#1b1d1f" stroke-width="1.1"/></g>
<g transform="translate(228.6 190.2) rotate(30.8)"><path d="M0.0 -10.8 L-16.0 -10.8 A6.7 10.8 0 0 0 -16.0 10.8 L0.0 10.8 A6.7 10.8 0 0 0 0.0 -10.8Z" fill="#5d6771" stroke="#1b1d1f" stroke-width="1.2" stroke-linejoin="round"/><ellipse cx="0.0" cy="0" rx="6.7" ry="10.8" fill="#6b7681" stroke="#1b1d1f" stroke-width="1.2"/><path d="M-8.8 -7.6 A6.7 10.8 0 0 0 -10.8 2.2" fill="none" stroke="#2a2f34" stroke-width="1"/></g>
<line x1="57.0" y1="87.4" x2="75.0" y2="98.2" stroke="#fff" stroke-width="1.2"/>
<line x1="124.0" y1="127.5" x2="131.0" y2="131.7" stroke="#fff" stroke-width="1.2"/>
<line x1="167.0" y1="153.6" x2="193.0" y2="169.1" stroke="#fff" stroke-width="1.6"/>
<line x1="220.2" y1="185.1" x2="233.5" y2="193.1" stroke="#fff" stroke-width="1.4"/>
<g transform="translate(207.0 20.3) rotate(30.8)"><path d="M0.0 -13.9 L-1.5 -13.9 A8.6 13.9 0 0 0 -1.5 13.9 L0.0 13.9 A8.6 13.9 0 0 0 0.0 -13.9Z" fill="#1d1f21" stroke="#1b1d1f" stroke-width="0.9" stroke-linejoin="round"/><ellipse cx="0.0" cy="0" rx="8.6" ry="13.9" fill="#26282a" stroke="#1b1d1f" stroke-width="0.9"/><ellipse cx="0.0" cy="0" rx="7.9" ry="12.7" fill="#6b6e71" stroke="#1b1d1f" stroke-width="0.5" /><ellipse cx="1.5" cy="-7.5" rx="1.3" ry="1.9" fill="#1a1a1a"/><ellipse cx="-3" cy="2" rx="1.3" ry="1.9" fill="#1a1a1a"/><ellipse cx="-1" cy="8" rx="1.3" ry="1.9" fill="#1a1a1a"/><ellipse cx="3" cy="4" rx="1.3" ry="1.9" fill="#1a1a1a"/></g>
<g transform="translate(226.5 31.5) rotate(30.8)"><line x1="-13" y1="0" x2="15" y2="0" stroke="#666" stroke-width="0.8"/><rect x="-7.5" y="-3.3" width="4.5" height="6.6" rx="1.2" fill="#101010"/><rect x="-4" y="-2.2" width="11.5" height="4.4" rx="0.8" fill="#1a1a1a"/><rect x="6.2" y="-2.0" width="1.3" height="4.0" fill="#777"/></g>
<g transform="translate(257.5 50.3) rotate(30.8)"><path d="M0.0 -18.2 L-2.5 -18.2 A11.3 18.2 0 0 0 -2.5 18.2 L0.0 18.2 A11.3 18.2 0 0 0 0.0 -18.2Z" fill="#1a1c1e" stroke="#1b1d1f" stroke-width="1.0" stroke-linejoin="round"/><ellipse cx="0.0" cy="0" rx="11.3" ry="18.2" fill="#232527" stroke="#1b1d1f" stroke-width="1.0"/><ellipse cx="0.0" cy="0" rx="9.7" ry="15.7" fill="#6a6d70" stroke="#1b1d1f" stroke-width="0.8" /><ellipse cx="0.0" cy="0" rx="6.6" ry="10.7" fill="#2a2c2e" stroke="#1b1d1f" stroke-width="0.8" /><ellipse cx="0.0" cy="0" rx="3.7" ry="6.0" fill="#55585b" stroke="#1b1d1f" stroke-width="0.8" /></g>
<g transform="translate(295.5 73.0) rotate(30.8)"><path d="M0.0 -19.2 L-13.6 -19.2 A11.9 19.2 0 0 0 -13.6 19.2 L0.0 19.2 A11.9 19.2 0 0 0 0.0 -19.2Z" fill="#1c1e20" stroke="#1b1d1f" stroke-width="1.2" stroke-linejoin="round"/><line x1="-15.0" y1="-19.1" x2="-1.4" y2="-19.1" stroke="#4a4d50" stroke-width="1.6"/><line x1="-17.8" y1="-18.0" x2="-4.2" y2="-18.0" stroke="#4a4d50" stroke-width="1.6"/><line x1="-20.4" y1="-15.8" x2="-6.8" y2="-15.8" stroke="#4a4d50" stroke-width="1.6"/><line x1="-22.5" y1="-12.7" x2="-8.9" y2="-12.7" stroke="#4a4d50" stroke-width="1.6"/><line x1="-24.1" y1="-8.9" x2="-10.5" y2="-8.9" stroke="#4a4d50" stroke-width="1.6"/><line x1="-25.2" y1="-4.6" x2="-11.6" y2="-4.6" stroke="#4a4d50" stroke-width="1.6"/><line x1="-25.5" y1="0.0" x2="-11.9" y2="0.0" stroke="#4a4d50" stroke-width="1.6"/><line x1="-25.2" y1="4.6" x2="-11.6" y2="4.6" stroke="#4a4d50" stroke-width="1.6"/><line x1="-24.1" y1="8.9" x2="-10.5" y2="8.9" stroke="#4a4d50" stroke-width="1.6"/><line x1="-22.5" y1="12.7" x2="-8.9" y2="12.7" stroke="#4a4d50" stroke-width="1.6"/><line x1="-20.4" y1="15.8" x2="-6.8" y2="15.8" stroke="#4a4d50" stroke-width="1.6"/><line x1="-17.8" y1="18.0" x2="-4.2" y2="18.0" stroke="#4a4d50" stroke-width="1.6"/><line x1="-15.0" y1="19.1" x2="-1.4" y2="19.1" stroke="#4a4d50" stroke-width="1.6"/><ellipse cx="0.0" cy="0" rx="11.9" ry="19.2" fill="#2b2d30" stroke="#1b1d1f" stroke-width="1.2"/><ellipse cx="-13.6" cy="0" rx="11.9" ry="19.2" fill="none" stroke="#15181a" stroke-width="2" stroke-dasharray="3 3"/><ellipse cx="0.0" cy="0" rx="11.9" ry="19.2" fill="#2a2c2f" stroke="#1b1d1f" stroke-width="1.2" /><ellipse cx="0.0" cy="0" rx="8.8" ry="14.2" fill="#3c3f43" stroke="#1b1d1f" stroke-width="0.8" /><ellipse cx="0.0" cy="0" rx="5.7" ry="9.2" fill="#1d1f21" stroke="#1b1d1f" stroke-width="0.8" /><ellipse cx="0.0" cy="0" rx="3.1" ry="5.0" fill="#484b4f" stroke="#1b1d1f" stroke-width="0.6" /></g>
<g transform="translate(330.7 93.9) rotate(30.8)"><path d="M-22.5 -5.5 L-12 -7.5 L-12 7 L-22.5 7.5Z" fill="#1d1f21" stroke="#101112" stroke-width="0.9"/><path d="M-22.5 -5.5 L-18.5 -8 L-10 -9.5 L-12 -7.5Z" fill="#2b2d2f" stroke="#101112" stroke-width="0.7"/><path d="M-2.0 -18.3 L-4.2 -18.3 A11.3 18.3 0 0 0 -4.2 18.3 L-2.0 18.3 A11.3 18.3 0 0 0 -2.0 -18.3Z" fill="#17191b" stroke="#1b1d1f" stroke-width="1.1" stroke-linejoin="round"/><ellipse cx="-2.0" cy="0" rx="11.3" ry="18.3" fill="#2a2c2f" stroke="#1b1d1f" stroke-width="1.1"/><ellipse cx="-2.0" cy="0" rx="9.8" ry="15.8" fill="none" stroke="#3a3d40" stroke-width="0.7" /><path d="M12.0 -14.2 L-2.0 -14.2 A8.8 14.2 0 0 0 -2.0 14.2 L12.0 14.2 A8.8 14.2 0 0 0 12.0 -14.2Z" fill="#1b1d1f" stroke="#1b1d1f" stroke-width="1.1" stroke-linejoin="round"/><line x1="-4.7" y1="-13.5" x2="9.3" y2="-13.5" stroke="#404346" stroke-width="1.8"/><line x1="-9.1" y1="-8.3" x2="4.9" y2="-8.3" stroke="#404346" stroke-width="1.8"/><line x1="-10.8" y1="0.0" x2="3.2" y2="0.0" stroke="#404346" stroke-width="1.8"/><line x1="-9.1" y1="8.3" x2="4.9" y2="8.3" stroke="#404346" stroke-width="1.8"/><line x1="-4.7" y1="13.5" x2="9.3" y2="13.5" stroke="#404346" stroke-width="1.8"/><ellipse cx="12.0" cy="0" rx="8.8" ry="14.2" fill="#383b3f" stroke="#1b1d1f" stroke-width="1.1"/><ellipse cx="12.0" cy="0" rx="6.4" ry="10.4" fill="#45484c" stroke="#1b1d1f" stroke-width="0.7" /></g>
<g transform="translate(371.0 118.2) rotate(30.8)"><path d="M0.0 -11.9 L-12.0 -11.9 A7.4 11.9 0 0 0 -12.0 11.9 L0.0 11.9 A7.4 11.9 0 0 0 0.0 -11.9Z" fill="#1a1c1e" stroke="#1b1d1f" stroke-width="1.2" stroke-linejoin="round"/><line x1="-13.6" y1="-11.6" x2="-1.6" y2="-11.6" stroke="#44474a" stroke-width="1.6"/><line x1="-16.6" y1="-9.3" x2="-4.6" y2="-9.3" stroke="#44474a" stroke-width="1.6"/><line x1="-18.6" y1="-5.2" x2="-6.6" y2="-5.2" stroke="#44474a" stroke-width="1.6"/><line x1="-19.4" y1="0.0" x2="-7.4" y2="0.0" stroke="#44474a" stroke-width="1.6"/><line x1="-18.6" y1="5.2" x2="-6.6" y2="5.2" stroke="#44474a" stroke-width="1.6"/><line x1="-16.6" y1="9.3" x2="-4.6" y2="9.3" stroke="#44474a" stroke-width="1.6"/><line x1="-13.6" y1="11.6" x2="-1.6" y2="11.6" stroke="#44474a" stroke-width="1.6"/><ellipse cx="0.0" cy="0" rx="7.4" ry="11.9" fill="#3a3d40" stroke="#1b1d1f" stroke-width="1.2"/><ellipse cx="0.0" cy="0" rx="5.2" ry="8.4" fill="#4a4d51" stroke="#1b1d1f" stroke-width="0.8" /></g>
<line x1="209.0" y1="21.1" x2="216.0" y2="25.2" stroke="#fff" stroke-width="1.4"/>
<line x1="259.0" y1="50.8" x2="268.0" y2="56.1" stroke="#fff" stroke-width="1.4"/>
<line x1="291.0" y1="69.8" x2="313.0" y2="82.9" stroke="#fff" stroke-width="1.4"/>
<line x1="338.0" y1="97.7" x2="356.0" y2="108.4" stroke="#fff" stroke-width="1.2"/>
<line x1="368.0" y1="115.5" x2="380.0" y2="122.7" stroke="#fff" stroke-width="1.4"/>
<g transform="translate(760.6 352.2) rotate(30.8)"><path d="M0.0 -11.9 L-12.0 -11.9 A7.4 11.9 0 0 0 -12.0 11.9 L0.0 11.9 A7.4 11.9 0 0 0 0.0 -11.9Z" fill="#1a1c1e" stroke="#1b1d1f" stroke-width="1.2" stroke-linejoin="round"/><line x1="-13.6" y1="-11.6" x2="-1.6" y2="-11.6" stroke="#44474a" stroke-width="1.6"/><line x1="-16.6" y1="-9.3" x2="-4.6" y2="-9.3" stroke="#44474a" stroke-width="1.6"/><line x1="-18.6" y1="-5.2" x2="-6.6" y2="-5.2" stroke="#44474a" stroke-width="1.6"/><line x1="-19.4" y1="0.0" x2="-7.4" y2="0.0" stroke="#44474a" stroke-width="1.6"/><line x1="-18.6" y1="5.2" x2="-6.6" y2="5.2" stroke="#44474a" stroke-width="1.6"/><line x1="-16.6" y1="9.3" x2="-4.6" y2="9.3" stroke="#44474a" stroke-width="1.6"/><line x1="-13.6" y1="11.6" x2="-1.6" y2="11.6" stroke="#44474a" stroke-width="1.6"/><ellipse cx="0.0" cy="0" rx="7.4" ry="11.9" fill="#3a3d40" stroke="#1b1d1f" stroke-width="1.2"/><ellipse cx="0.0" cy="0" rx="5.2" ry="8.4" fill="#4a4d51" stroke="#1b1d1f" stroke-width="0.8" /></g>
<g transform="translate(800.5 376.1) rotate(30.8)"><path d="M-3.0 -14.3 L-14.5 -14.3 A8.9 14.3 0 0 0 -14.5 14.3 L-3.0 14.3 A8.9 14.3 0 0 0 -3.0 -14.3Z" fill="#1b1d1f" stroke="#1b1d1f" stroke-width="1.1" stroke-linejoin="round"/><line x1="-17.2" y1="-13.6" x2="-5.7" y2="-13.6" stroke="#3f4245" stroke-width="1.6"/><line x1="-21.7" y1="-8.4" x2="-10.2" y2="-8.4" stroke="#3f4245" stroke-width="1.6"/><line x1="-23.4" y1="0.0" x2="-11.9" y2="0.0" stroke="#3f4245" stroke-width="1.6"/><line x1="-21.7" y1="8.4" x2="-10.2" y2="8.4" stroke="#3f4245" stroke-width="1.6"/><line x1="-17.2" y1="13.6" x2="-5.7" y2="13.6" stroke="#3f4245" stroke-width="1.6"/><ellipse cx="-3.0" cy="0" rx="8.9" ry="14.3" fill="#2a2c2f" stroke="#1b1d1f" stroke-width="1.1"/><path d="M1.0 -19.3 L-1.5 -19.3 A12.0 19.3 0 0 0 -1.5 19.3 L1.0 19.3 A12.0 19.3 0 0 0 1.0 -19.3Z" fill="#17191b" stroke="#1b1d1f" stroke-width="1.1" stroke-linejoin="round"/><ellipse cx="1.0" cy="0" rx="12.0" ry="19.3" fill="#34373a" stroke="#1b1d1f" stroke-width="1.1"/><ellipse cx="1.0" cy="0" rx="9.6" ry="15.5" fill="none" stroke="#17191b" stroke-width="0.7" /><path d="M8.0 -9.5 L1.0 -9.5 A5.9 9.5 0 0 0 1.0 9.5 L8.0 9.5 A5.9 9.5 0 0 0 8.0 -9.5Z" fill="#1d1f21" stroke="#1b1d1f" stroke-width="0.9" stroke-linejoin="round"/><ellipse cx="8.0" cy="0" rx="5.9" ry="9.5" fill="#44474b" stroke="#1b1d1f" stroke-width="0.9"/><path d="M8 -6.5 L19 -4 L19 6.5 L8 5Z" fill="#222426" stroke="#101112" stroke-width="0.9"/><path d="M15.5 -2.5 L19 -2 L19 3.5 L15.5 3Z" fill="#4a4d50" stroke="#101112" stroke-width="0.6"/></g>
<g transform="translate(853.0 407.5) rotate(30.8)"><path d="M0.0 -19.2 L-13.6 -19.2 A11.9 19.2 0 0 0 -13.6 19.2 L0.0 19.2 A11.9 19.2 0 0 0 0.0 -19.2Z" fill="#1c1e20" stroke="#1b1d1f" stroke-width="1.2" stroke-linejoin="round"/><line x1="-15.0" y1="-19.1" x2="-1.4" y2="-19.1" stroke="#4a4d50" stroke-width="1.6"/><line x1="-17.8" y1="-18.0" x2="-4.2" y2="-18.0" stroke="#4a4d50" stroke-width="1.6"/><line x1="-20.4" y1="-15.8" x2="-6.8" y2="-15.8" stroke="#4a4d50" stroke-width="1.6"/><line x1="-22.5" y1="-12.7" x2="-8.9" y2="-12.7" stroke="#4a4d50" stroke-width="1.6"/><line x1="-24.1" y1="-8.9" x2="-10.5" y2="-8.9" stroke="#4a4d50" stroke-width="1.6"/><line x1="-25.2" y1="-4.6" x2="-11.6" y2="-4.6" stroke="#4a4d50" stroke-width="1.6"/><line x1="-25.5" y1="0.0" x2="-11.9" y2="0.0" stroke="#4a4d50" stroke-width="1.6"/><line x1="-25.2" y1="4.6" x2="-11.6" y2="4.6" stroke="#4a4d50" stroke-width="1.6"/><line x1="-24.1" y1="8.9" x2="-10.5" y2="8.9" stroke="#4a4d50" stroke-width="1.6"/><line x1="-22.5" y1="12.7" x2="-8.9" y2="12.7" stroke="#4a4d50" stroke-width="1.6"/><line x1="-20.4" y1="15.8" x2="-6.8" y2="15.8" stroke="#4a4d50" stroke-width="1.6"/><line x1="-17.8" y1="18.0" x2="-4.2" y2="18.0" stroke="#4a4d50" stroke-width="1.6"/><line x1="-15.0" y1="19.1" x2="-1.4" y2="19.1" stroke="#4a4d50" stroke-width="1.6"/><ellipse cx="0.0" cy="0" rx="11.9" ry="19.2" fill="#2b2d30" stroke="#1b1d1f" stroke-width="1.2"/><ellipse cx="-13.6" cy="0" rx="11.9" ry="19.2" fill="none" stroke="#15181a" stroke-width="2" stroke-dasharray="3 3"/><ellipse cx="0.0" cy="0" rx="11.9" ry="19.2" fill="#2a2c2f" stroke="#1b1d1f" stroke-width="1.2" /><ellipse cx="0.0" cy="0" rx="8.8" ry="14.2" fill="#3c3f43" stroke="#1b1d1f" stroke-width="0.8" /><ellipse cx="0.0" cy="0" rx="5.7" ry="9.2" fill="#1d1f21" stroke="#1b1d1f" stroke-width="0.8" /><ellipse cx="0.0" cy="0" rx="3.1" ry="5.0" fill="#484b4f" stroke="#1b1d1f" stroke-width="0.6" /></g>
<g transform="translate(886.0 427.3) rotate(30.8)"><path d="M0.0 -18.2 L-2.5 -18.2 A11.3 18.2 0 0 0 -2.5 18.2 L0.0 18.2 A11.3 18.2 0 0 0 0.0 -18.2Z" fill="#1a1c1e" stroke="#1b1d1f" stroke-width="1.0" stroke-linejoin="round"/><ellipse cx="0.0" cy="0" rx="11.3" ry="18.2" fill="#232527" stroke="#1b1d1f" stroke-width="1.0"/><ellipse cx="0.0" cy="0" rx="9.7" ry="15.7" fill="#6a6d70" stroke="#1b1d1f" stroke-width="0.8" /><ellipse cx="0.0" cy="0" rx="7.6" ry="12.2" fill="#75787b" stroke="#3a3c3e" stroke-width="0.6" /><ellipse cx="3" cy="-9" rx="1.2" ry="1.8" fill="#1a1a1a"/><ellipse cx="-5" cy="-3" rx="1.2" ry="1.8" fill="#1a1a1a"/><ellipse cx="-3" cy="8" rx="1.2" ry="1.8" fill="#1a1a1a"/><ellipse cx="5" cy="5" rx="1.2" ry="1.8" fill="#1a1a1a"/><ellipse cx="0" cy="1.5" rx="1.2" ry="1.8" fill="#1a1a1a"/></g>
<g transform="translate(934.5 456.3) rotate(30.8)"><line x1="-13" y1="0" x2="15" y2="0" stroke="#666" stroke-width="0.8"/><rect x="-7.5" y="-3.3" width="4.5" height="6.6" rx="1.2" fill="#101010"/><rect x="-4" y="-2.2" width="11.5" height="4.4" rx="0.8" fill="#1a1a1a"/><rect x="6.2" y="-2.0" width="1.3" height="4.0" fill="#777"/></g>
<g transform="translate(990.4 489.8) rotate(30.8)"><path d="M0.0 -13.9 L-1.5 -13.9 A8.6 13.9 0 0 0 -1.5 13.9 L0.0 13.9 A8.6 13.9 0 0 0 0.0 -13.9Z" fill="#1d1f21" stroke="#1b1d1f" stroke-width="0.9" stroke-linejoin="round"/><ellipse cx="0.0" cy="0" rx="8.6" ry="13.9" fill="#26282a" stroke="#1b1d1f" stroke-width="0.9"/><ellipse cx="0.0" cy="0" rx="7.9" ry="12.7" fill="#6b6e71" stroke="#1b1d1f" stroke-width="0.5" /></g>
<line x1="757.0" y1="350.0" x2="772.0" y2="359.0" stroke="#fff" stroke-width="1.4"/>
<line x1="812.0" y1="382.9" x2="822.0" y2="388.9" stroke="#fff" stroke-width="1.2"/>
<line x1="848.0" y1="404.5" x2="872.0" y2="418.9" stroke="#fff" stroke-width="1.4"/>
<line x1="884.0" y1="426.1" x2="896.0" y2="433.3" stroke="#fff" stroke-width="1.4"/>
<g transform="translate(642.0 439.8) rotate(30.8)"><path d="M0.0 -10.8 L-16.0 -10.8 A6.7 10.8 0 0 0 -16.0 10.8 L0.0 10.8 A6.7 10.8 0 0 0 0.0 -10.8Z" fill="#5d6771" stroke="#1b1d1f" stroke-width="1.2" stroke-linejoin="round"/><ellipse cx="0.0" cy="0" rx="6.7" ry="10.8" fill="#6b7681" stroke="#1b1d1f" stroke-width="1.2"/><path d="M-8.8 -7.6 A6.7 10.8 0 0 0 -10.8 2.2" fill="none" stroke="#2a2f34" stroke-width="1"/></g>
<g transform="translate(690.2 468.6) rotate(30.8)"><path d="M0.0 -38.2 L-14.5 -38.2 A21.6 38.2 0 0 0 -14.5 38.2 L0.0 38.2 A21.6 38.2 0 0 0 0.0 -38.2Z" fill="#22262a" stroke="#1b1d1f" stroke-width="1.3" stroke-linejoin="round"/><line x1="-16.0" y1="-38.1" x2="-1.5" y2="-38.1" stroke="#58626c" stroke-width="1.9"/><line x1="-18.9" y1="-37.4" x2="-4.4" y2="-37.4" stroke="#58626c" stroke-width="1.9"/><line x1="-21.7" y1="-36.0" x2="-7.2" y2="-36.0" stroke="#58626c" stroke-width="1.9"/><line x1="-24.4" y1="-33.9" x2="-9.9" y2="-33.9" stroke="#58626c" stroke-width="1.9"/><line x1="-26.9" y1="-31.2" x2="-12.4" y2="-31.2" stroke="#58626c" stroke-width="1.9"/><line x1="-29.2" y1="-27.9" x2="-14.7" y2="-27.9" stroke="#58626c" stroke-width="1.9"/><line x1="-31.2" y1="-24.1" x2="-16.7" y2="-24.1" stroke="#58626c" stroke-width="1.9"/><line x1="-32.9" y1="-19.8" x2="-18.4" y2="-19.8" stroke="#58626c" stroke-width="1.9"/><line x1="-34.3" y1="-15.2" x2="-19.8" y2="-15.2" stroke="#58626c" stroke-width="1.9"/><line x1="-35.3" y1="-10.3" x2="-20.8" y2="-10.3" stroke="#58626c" stroke-width="1.9"/><line x1="-35.9" y1="-5.2" x2="-21.4" y2="-5.2" stroke="#58626c" stroke-width="1.9"/><line x1="-36.1" y1="0.0" x2="-21.6" y2="0.0" stroke="#58626c" stroke-width="1.9"/><line x1="-35.9" y1="5.2" x2="-21.4" y2="5.2" stroke="#58626c" stroke-width="1.9"/><line x1="-35.3" y1="10.3" x2="-20.8" y2="10.3" stroke="#58626c" stroke-width="1.9"/><line x1="-34.3" y1="15.2" x2="-19.8" y2="15.2" stroke="#58626c" stroke-width="1.9"/><line x1="-32.9" y1="19.8" x2="-18.4" y2="19.8" stroke="#58626c" stroke-width="1.9"/><line x1="-31.2" y1="24.1" x2="-16.7" y2="24.1" stroke="#58626c" stroke-width="1.9"/><line x1="-29.2" y1="27.9" x2="-14.7" y2="27.9" stroke="#58626c" stroke-width="1.9"/><line x1="-26.9" y1="31.2" x2="-12.4" y2="31.2" stroke="#58626c" stroke-width="1.9"/><line x1="-24.4" y1="33.9" x2="-9.9" y2="33.9" stroke="#58626c" stroke-width="1.9"/><line x1="-21.7" y1="36.0" x2="-7.2" y2="36.0" stroke="#58626c" stroke-width="1.9"/><line x1="-18.9" y1="37.4" x2="-4.4" y2="37.4" stroke="#58626c" stroke-width="1.9"/><line x1="-16.0" y1="38.1" x2="-1.5" y2="38.1" stroke="#58626c" stroke-width="1.9"/><ellipse cx="0.0" cy="0" rx="21.6" ry="38.2" fill="#22262a" stroke="#1b1d1f" stroke-width="1.3"/><path d="M-14.5 -38.2 A21.6 38.2 0 0 0 -14.5 38.2" fill="none" stroke="#121416" stroke-width="2.4" stroke-dasharray="2.6 2.2"/><ellipse cx="0.0" cy="0" rx="21.6" ry="38.2" fill="#58636e" stroke="#1b1d1f" stroke-width="1.3" /><ellipse cx="0.0" cy="0" rx="18.5" ry="32.7" fill="#1c2024" stroke="#1b1d1f" stroke-width="1.0" /><line x1="11.0" y1="-24.4" x2="7.2" y2="-20.5" stroke="#4a545d" stroke-width="1.3"/><line x1="14.5" y1="-17.6" x2="10.2" y2="-14.8" stroke="#4a545d" stroke-width="1.3"/><line x1="16.8" y1="-9.2" x2="12.1" y2="-7.7" stroke="#4a545d" stroke-width="1.3"/><line x1="17.6" y1="-0.0" x2="12.8" y2="-0.0" stroke="#4a545d" stroke-width="1.3"/><line x1="16.8" y1="9.2" x2="12.1" y2="7.7" stroke="#4a545d" stroke-width="1.3"/><line x1="14.5" y1="17.6" x2="10.2" y2="14.8" stroke="#4a545d" stroke-width="1.3"/><line x1="11.0" y1="24.4" x2="7.2" y2="20.5" stroke="#4a545d" stroke-width="1.3"/><line x1="3.0" y1="5.9" x2="12.2" y2="23.9" stroke="#15181b" stroke-width="9"/><line x1="3.0" y1="5.9" x2="12.2" y2="23.9" stroke="#4e5862" stroke-width="6.5"/><line x1="-3.0" y1="5.9" x2="-12.2" y2="23.9" stroke="#15181b" stroke-width="9"/><line x1="-3.0" y1="5.9" x2="-12.2" y2="23.9" stroke="#4e5862" stroke-width="6.5"/><line x1="-3.0" y1="-5.9" x2="-12.2" y2="-23.9" stroke="#15181b" stroke-width="9"/><line x1="-3.0" y1="-5.9" x2="-12.2" y2="-23.9" stroke="#4e5862" stroke-width="6.5"/><line x1="3.0" y1="-5.9" x2="12.2" y2="-23.9" stroke="#15181b" stroke-width="9"/><line x1="3.0" y1="-5.9" x2="12.2" y2="-23.9" stroke="#4e5862" stroke-width="6.5"/><ellipse cx="0.0" cy="0" rx="9.6" ry="17.0" fill="#4e5862" stroke="#15181b" stroke-width="1.0" /><ellipse cx="1.2" cy="0" rx="7.1" ry="12.5" fill="#636e79" stroke="#1b1d1f" stroke-width="1.1" /></g>
<g transform="translate(728.3 491.3) rotate(30.8)"><path d="M0.0 -12.8 L-2.0 -12.8 A7.9 12.8 0 0 0 -2.0 12.8 L0.0 12.8 A7.9 12.8 0 0 0 0.0 -12.8Z" fill="#2b3036" stroke="#1b1d1f" stroke-width="1.0" stroke-linejoin="round"/><ellipse cx="0.0" cy="0" rx="7.9" ry="12.8" fill="#56606a" stroke="#1b1d1f" stroke-width="1.0"/><ellipse cx="0.0" cy="0" rx="3.2" ry="5.2" fill="#3a4148" stroke="#1b1d1f" stroke-width="0.8" /><ellipse cx="0.0" cy="0" rx="1.6" ry="2.6" fill="#20242a" stroke="#1b1d1f" stroke-width="0.5" /></g>
<g transform="translate(758.8 509.4) rotate(30.8)"><line x1="-13" y1="0" x2="15" y2="0" stroke="#666" stroke-width="0.8"/><rect x="-7.5" y="-3.3" width="4.5" height="6.6" rx="1.2" fill="#101010"/><rect x="-4" y="-2.2" width="11.5" height="4.4" rx="0.8" fill="#1a1a1a"/><rect x="6.2" y="-2.0" width="1.3" height="4.0" fill="#777"/></g>
<g transform="translate(803.3 536.0) rotate(30.8)"><path d="M0.0 -36.6 L-2.2 -36.6 A22.0 36.6 0 0 0 -2.2 36.6 L0.0 36.6 A22.0 36.6 0 0 0 0.0 -36.6Z" fill="#1d1f21" stroke="#1b1d1f" stroke-width="1.0" stroke-linejoin="round"/><ellipse cx="0.0" cy="0" rx="22.0" ry="36.6" fill="#2a2c2e" stroke="#1b1d1f" stroke-width="1.0"/><ellipse cx="0.0" cy="0" rx="21.0" ry="35.0" fill="#6d7175" stroke="#1b1d1f" stroke-width="0.8" /><ellipse cx="0.0" cy="0" rx="19.2" ry="32.0" fill="none" stroke="#2c2e30" stroke-width="0.8" /></g>
<line x1="633.5" y1="434.8" x2="647.5" y2="443.1" stroke="#fff" stroke-width="1.4"/>
<line x1="682.0" y1="463.7" x2="726.0" y2="489.9" stroke="#fff" stroke-width="1.6"/>
<line x1="729.0" y1="491.7" x2="738.0" y2="497.0" stroke="#fff" stroke-width="1.2"/>
<g transform="translate(828.6 166.8) rotate(30.4)"><polygon points="-148.5,-29.6 -146.4,-24.7 -154.9,-28.2 -151.1,-22.2 -160.6,-24.0 -155.0,-17.6 -165.2,-17.4 -157.9,-11.3 -168.1,-9.2 -159.4,-3.9 -169.1,0.0 -159.4,3.9 -168.1,9.2 -157.9,11.3 -165.2,17.4 -155.0,17.6 -160.6,24.0 -151.1,22.2 -154.9,28.2 -146.4,24.7 -148.5,29.6 -137.0,26.0 -137.0,-26.0" fill="#6e7072" stroke="#18191a" stroke-width="1"/><path d="M0.0 -26.0 L-147.0 -26.0 A15.6 26.0 0 0 0 -147.0 26.0 L0.0 26.0 A15.6 26.0 0 0 0 0.0 -26.0Z" fill="#a3a5a7" stroke="#1b1d1f" stroke-width="1.0" stroke-linejoin="round"/><ellipse cx="0.0" cy="0" rx="15.6" ry="26.0" fill="#55585b" stroke="#1b1d1f" stroke-width="1.0"/><line x1="-150.5" y1="-25.3" x2="-3.5" y2="-25.3" stroke="#1c1d1e" stroke-width="1.15"/><line x1="-146.5" y1="-25.3" x2="-143.0" y2="-20.3" stroke="#242526" stroke-width="1.2"/><line x1="-132.5" y1="-25.3" x2="-129.0" y2="-20.3" stroke="#242526" stroke-width="1.2"/><line x1="-118.5" y1="-25.3" x2="-115.0" y2="-20.3" stroke="#242526" stroke-width="1.2"/><line x1="-104.5" y1="-25.3" x2="-101.0" y2="-20.3" stroke="#242526" stroke-width="1.2"/><line x1="-90.5" y1="-25.3" x2="-87.0" y2="-20.3" stroke="#242526" stroke-width="1.2"/><line x1="-76.5" y1="-25.3" x2="-73.0" y2="-20.3" stroke="#242526" stroke-width="1.2"/><line x1="-62.5" y1="-25.3" x2="-59.0" y2="-20.3" stroke="#242526" stroke-width="1.2"/><line x1="-48.5" y1="-25.3" x2="-45.0" y2="-20.3" stroke="#242526" stroke-width="1.2"/><line x1="-34.5" y1="-25.3" x2="-31.0" y2="-20.3" stroke="#242526" stroke-width="1.2"/><line x1="-20.5" y1="-25.3" x2="-17.0" y2="-20.3" stroke="#242526" stroke-width="1.2"/><line x1="-6.5" y1="-25.3" x2="-3.0" y2="-20.3" stroke="#242526" stroke-width="1.2"/><line x1="-156.7" y1="-20.3" x2="-9.7" y2="-20.3" stroke="#1c1d1e" stroke-width="1.15"/><line x1="-145.7" y1="-20.3" x2="-142.2" y2="-11.3" stroke="#242526" stroke-width="1.2"/><line x1="-131.7" y1="-20.3" x2="-128.2" y2="-11.3" stroke="#242526" stroke-width="1.2"/><line x1="-117.7" y1="-20.3" x2="-114.2" y2="-11.3" stroke="#242526" stroke-width="1.2"/><line x1="-103.7" y1="-20.3" x2="-100.2" y2="-11.3" stroke="#242526" stroke-width="1.2"/><line x1="-89.7" y1="-20.3" x2="-86.2" y2="-11.3" stroke="#242526" stroke-width="1.2"/><line x1="-75.7" y1="-20.3" x2="-72.2" y2="-11.3" stroke="#242526" stroke-width="1.2"/><line x1="-61.7" y1="-20.3" x2="-58.2" y2="-11.3" stroke="#242526" stroke-width="1.2"/><line x1="-47.7" y1="-20.3" x2="-44.2" y2="-11.3" stroke="#242526" stroke-width="1.2"/><line x1="-33.7" y1="-20.3" x2="-30.2" y2="-11.3" stroke="#242526" stroke-width="1.2"/><line x1="-19.7" y1="-20.3" x2="-16.2" y2="-11.3" stroke="#242526" stroke-width="1.2"/><line x1="-161.1" y1="-11.3" x2="-14.1" y2="-11.3" stroke="#1c1d1e" stroke-width="1.15"/><line x1="-157.1" y1="-11.3" x2="-153.6" y2="0.0" stroke="#242526" stroke-width="1.2"/><line x1="-143.1" y1="-11.3" x2="-139.6" y2="0.0" stroke="#242526" stroke-width="1.2"/><line x1="-129.1" y1="-11.3" x2="-125.6" y2="0.0" stroke="#242526" stroke-width="1.2"/><line x1="-115.1" y1="-11.3" x2="-111.6" y2="0.0" stroke="#242526" stroke-width="1.2"/><line x1="-101.1" y1="-11.3" x2="-97.6" y2="0.0" stroke="#242526" stroke-width="1.2"/><line x1="-87.1" y1="-11.3" x2="-83.6" y2="0.0" stroke="#242526" stroke-width="1.2"/><line x1="-73.1" y1="-11.3" x2="-69.6" y2="0.0" stroke="#242526" stroke-width="1.2"/><line x1="-59.1" y1="-11.3" x2="-55.6" y2="0.0" stroke="#242526" stroke-width="1.2"/><line x1="-45.1" y1="-11.3" x2="-41.6" y2="0.0" stroke="#242526" stroke-width="1.2"/><line x1="-31.1" y1="-11.3" x2="-27.6" y2="0.0" stroke="#242526" stroke-width="1.2"/><line x1="-17.1" y1="-11.3" x2="-13.6" y2="0.0" stroke="#242526" stroke-width="1.2"/><line x1="-162.6" y1="0.0" x2="-15.6" y2="0.0" stroke="#1c1d1e" stroke-width="1.15"/><line x1="-151.6" y1="0.0" x2="-148.1" y2="11.3" stroke="#242526" stroke-width="1.2"/><line x1="-137.6" y1="0.0" x2="-134.1" y2="11.3" stroke="#242526" stroke-width="1.2"/><line x1="-123.6" y1="0.0" x2="-120.1" y2="11.3" stroke="#242526" stroke-width="1.2"/><line x1="-109.6" y1="0.0" x2="-106.1" y2="11.3" stroke="#242526" stroke-width="1.2"/><line x1="-95.6" y1="0.0" x2="-92.1" y2="11.3" stroke="#242526" stroke-width="1.2"/><line x1="-81.6" y1="0.0" x2="-78.1" y2="11.3" stroke="#242526" stroke-width="1.2"/><line x1="-67.6" y1="0.0" x2="-64.1" y2="11.3" stroke="#242526" stroke-width="1.2"/><line x1="-53.6" y1="0.0" x2="-50.1" y2="11.3" stroke="#242526" stroke-width="1.2"/><line x1="-39.6" y1="0.0" x2="-36.1" y2="11.3" stroke="#242526" stroke-width="1.2"/><line x1="-25.6" y1="0.0" x2="-22.1" y2="11.3" stroke="#242526" stroke-width="1.2"/><line x1="-161.1" y1="11.3" x2="-14.1" y2="11.3" stroke="#1c1d1e" stroke-width="1.15"/><line x1="-157.1" y1="11.3" x2="-153.6" y2="20.3" stroke="#242526" stroke-width="1.2"/><line x1="-143.1" y1="11.3" x2="-139.6" y2="20.3" stroke="#242526" stroke-width="1.2"/><line x1="-129.1" y1="11.3" x2="-125.6" y2="20.3" stroke="#242526" stroke-width="1.2"/><line x1="-115.1" y1="11.3" x2="-111.6" y2="20.3" stroke="#242526" stroke-width="1.2"/><line x1="-101.1" y1="11.3" x2="-97.6" y2="20.3" stroke="#242526" stroke-width="1.2"/><line x1="-87.1" y1="11.3" x2="-83.6" y2="20.3" stroke="#242526" stroke-width="1.2"/><line x1="-73.1" y1="11.3" x2="-69.6" y2="20.3" stroke="#242526" stroke-width="1.2"/><line x1="-59.1" y1="11.3" x2="-55.6" y2="20.3" stroke="#242526" stroke-width="1.2"/><line x1="-45.1" y1="11.3" x2="-41.6" y2="20.3" stroke="#242526" stroke-width="1.2"/><line x1="-31.1" y1="11.3" x2="-27.6" y2="20.3" stroke="#242526" stroke-width="1.2"/><line x1="-17.1" y1="11.3" x2="-13.6" y2="20.3" stroke="#242526" stroke-width="1.2"/><line x1="-156.7" y1="20.3" x2="-9.7" y2="20.3" stroke="#1c1d1e" stroke-width="1.15"/><line x1="-145.7" y1="20.3" x2="-142.2" y2="25.3" stroke="#242526" stroke-width="1.2"/><line x1="-131.7" y1="20.3" x2="-128.2" y2="25.3" stroke="#242526" stroke-width="1.2"/><line x1="-117.7" y1="20.3" x2="-114.2" y2="25.3" stroke="#242526" stroke-width="1.2"/><line x1="-103.7" y1="20.3" x2="-100.2" y2="25.3" stroke="#242526" stroke-width="1.2"/><line x1="-89.7" y1="20.3" x2="-86.2" y2="25.3" stroke="#242526" stroke-width="1.2"/><line x1="-75.7" y1="20.3" x2="-72.2" y2="25.3" stroke="#242526" stroke-width="1.2"/><line x1="-61.7" y1="20.3" x2="-58.2" y2="25.3" stroke="#242526" stroke-width="1.2"/><line x1="-47.7" y1="20.3" x2="-44.2" y2="25.3" stroke="#242526" stroke-width="1.2"/><line x1="-33.7" y1="20.3" x2="-30.2" y2="25.3" stroke="#242526" stroke-width="1.2"/><line x1="-19.7" y1="20.3" x2="-16.2" y2="25.3" stroke="#242526" stroke-width="1.2"/><line x1="-150.5" y1="25.3" x2="-3.5" y2="25.3" stroke="#1c1d1e" stroke-width="1.15"/><line x1="-146.5" y1="25.3" x2="-143.0" y2="26.0" stroke="#242526" stroke-width="1.2"/><line x1="-132.5" y1="25.3" x2="-129.0" y2="26.0" stroke="#242526" stroke-width="1.2"/><line x1="-118.5" y1="25.3" x2="-115.0" y2="26.0" stroke="#242526" stroke-width="1.2"/><line x1="-104.5" y1="25.3" x2="-101.0" y2="26.0" stroke="#242526" stroke-width="1.2"/><line x1="-90.5" y1="25.3" x2="-87.0" y2="26.0" stroke="#242526" stroke-width="1.2"/><line x1="-76.5" y1="25.3" x2="-73.0" y2="26.0" stroke="#242526" stroke-width="1.2"/><line x1="-62.5" y1="25.3" x2="-59.0" y2="26.0" stroke="#242526" stroke-width="1.2"/><line x1="-48.5" y1="25.3" x2="-45.0" y2="26.0" stroke="#242526" stroke-width="1.2"/><line x1="-34.5" y1="25.3" x2="-31.0" y2="26.0" stroke="#242526" stroke-width="1.2"/><line x1="-20.5" y1="25.3" x2="-17.0" y2="26.0" stroke="#242526" stroke-width="1.2"/><line x1="-6.5" y1="25.3" x2="-3.0" y2="26.0" stroke="#242526" stroke-width="1.2"/><path d="M-156.4 11.7 L-9.4 11.7 L0 26.0 L-147.0 26.0Z" fill="#000" opacity="0.20"/><path d="M-162.1 -5.2 L-15.1 -5.2 L-14.5 5.2 L-161.5 5.2Z" fill="#000" opacity="0.15"/><path d="M-142.5 -25.2 A15.1 25.2 0 0 0 -142.5 25.2 L-131.5 25.2 A15.1 25.2 0 0 1 -131.5 -25.2Z" fill="#e6e6e6" stroke="#6a6a6a" stroke-width="0.6"/><path d="M-27.5 -25.2 A15.1 25.2 0 0 0 -27.5 25.2 L-15.5 25.2 A15.1 25.2 0 0 1 -15.5 -25.2Z" fill="#e6e6e6" stroke="#6a6a6a" stroke-width="0.6"/><path d="M-68.0 -26.0 A15.6 26.0 0 0 0 -68.0 26.0 L-65.0 26.0 A15.6 26.0 0 0 1 -65.0 -26.0Z" fill="#fff"/><path d="M-68.8 -22.4 A13.4 22.4 0 0 0 -68.8 22.4 L-63.2 22.4 A13.4 22.4 0 0 1 -63.2 -22.4Z" fill="#222426"/><path d="M-66.3 -20.8 A12.5 20.8 0 0 0 -66.3 20.8 L-64.7 20.8 A12.5 20.8 0 0 1 -64.7 -20.8Z" fill="#5a5d60"/><ellipse cx="-15.5" cy="0" rx="15.1" ry="25.2" fill="#e6e6e6" stroke="#6a6a6a" stroke-width="0.6"/><ellipse cx="-14.5" cy="0" rx="13.5" ry="22.8" fill="#fafafa" stroke="#8a8a8a" stroke-width="0.5"/><polygon points="6.2,1.0 15.8,2.6 2.8,2.6 -6.8,1.0" fill="#8e9092" stroke="#1c1d1e" stroke-width="0.9"/><polygon points="5.5,4.9 14.0,12.5 1.0,12.5 -7.5,4.9" fill="#77797b" stroke="#1c1d1e" stroke-width="0.9"/><polygon points="3.9,8.1 10.1,20.5 -2.9,20.5 -9.1,8.1" fill="#77797b" stroke="#1c1d1e" stroke-width="0.9"/><polygon points="1.8,10.0 4.6,25.4 -8.4,25.4 -11.2,10.0" fill="#77797b" stroke="#1c1d1e" stroke-width="0.9"/><polygon points="-0.6,10.3 -1.6,26.4 -14.6,26.4 -13.6,10.3" fill="#77797b" stroke="#1c1d1e" stroke-width="0.9"/><polygon points="-3.0,9.2 -7.5,23.4 -20.5,23.4 -16.0,9.2" fill="#77797b" stroke="#1c1d1e" stroke-width="0.9"/><polygon points="-4.8,6.6 -12.3,16.8 -25.3,16.8 -17.8,6.6" fill="#77797b" stroke="#1c1d1e" stroke-width="0.9"/><polygon points="-6.0,3.0 -15.2,7.7 -28.2,7.7 -19.0,3.0" fill="#77797b" stroke="#1c1d1e" stroke-width="0.9"/><polygon points="-6.2,-1.0 -15.8,-2.6 -28.8,-2.6 -19.2,-1.0" fill="#8e9092" stroke="#1c1d1e" stroke-width="0.9"/><polygon points="-5.5,-4.9 -14.0,-12.5 -27.0,-12.5 -18.5,-4.9" fill="#8e9092" stroke="#1c1d1e" stroke-width="0.9"/><polygon points="-3.9,-8.1 -10.1,-20.5 -23.1,-20.5 -16.9,-8.1" fill="#8e9092" stroke="#1c1d1e" stroke-width="0.9"/><polygon points="-1.8,-10.0 -4.6,-25.4 -17.6,-25.4 -14.8,-10.0" fill="#8e9092" stroke="#1c1d1e" stroke-width="0.9"/><polygon points="0.6,-10.3 1.6,-26.4 -11.4,-26.4 -12.4,-10.3" fill="#8e9092" stroke="#1c1d1e" stroke-width="0.9"/><polygon points="3.0,-9.2 7.5,-23.4 -5.5,-23.4 -10.0,-9.2" fill="#8e9092" stroke="#1c1d1e" stroke-width="0.9"/><polygon points="4.8,-6.6 12.3,-16.8 -0.7,-16.8 -8.2,-6.6" fill="#8e9092" stroke="#1c1d1e" stroke-width="0.9"/><polygon points="6.0,-3.0 15.2,-7.7 2.2,-7.7 -7.0,-3.0" fill="#8e9092" stroke="#1c1d1e" stroke-width="0.9"/><line x1="6.2" y1="1.0" x2="16.0" y2="2.7" stroke="#1a1b1c" stroke-width="1.3"/><line x1="5.5" y1="4.9" x2="14.2" y2="12.7" stroke="#1a1b1c" stroke-width="1.3"/><line x1="3.9" y1="8.1" x2="10.2" y2="20.7" stroke="#1a1b1c" stroke-width="1.3"/><line x1="1.8" y1="10.0" x2="4.6" y2="25.6" stroke="#1a1b1c" stroke-width="1.3"/><line x1="-0.6" y1="10.3" x2="-1.6" y2="26.6" stroke="#1a1b1c" stroke-width="1.3"/><line x1="-3.0" y1="9.2" x2="-7.6" y2="23.6" stroke="#1a1b1c" stroke-width="1.3"/><line x1="-4.8" y1="6.6" x2="-12.4" y2="17.0" stroke="#1a1b1c" stroke-width="1.3"/><line x1="-6.0" y1="3.0" x2="-15.4" y2="7.7" stroke="#1a1b1c" stroke-width="1.3"/><line x1="-6.2" y1="-1.0" x2="-16.0" y2="-2.7" stroke="#1a1b1c" stroke-width="1.3"/><line x1="-5.5" y1="-4.9" x2="-14.2" y2="-12.7" stroke="#1a1b1c" stroke-width="1.3"/><line x1="-3.9" y1="-8.1" x2="-10.2" y2="-20.7" stroke="#1a1b1c" stroke-width="1.3"/><line x1="-1.8" y1="-10.0" x2="-4.6" y2="-25.6" stroke="#1a1b1c" stroke-width="1.3"/><line x1="0.6" y1="-10.3" x2="1.6" y2="-26.6" stroke="#1a1b1c" stroke-width="1.3"/><line x1="3.0" y1="-9.2" x2="7.6" y2="-23.6" stroke="#1a1b1c" stroke-width="1.3"/><line x1="4.8" y1="-6.6" x2="12.4" y2="-17.0" stroke="#1a1b1c" stroke-width="1.3"/><line x1="6.0" y1="-3.0" x2="15.4" y2="-7.7" stroke="#1a1b1c" stroke-width="1.3"/><ellipse cx="0" cy="0" rx="7.2" ry="12.0" fill="#222426" stroke="#111" stroke-width="1"/><ellipse cx="0.8" cy="0.8" rx="5.3" ry="8.8" fill="#56585a"/></g>
<line x1="736.0" y1="128.5" x2="722.0" y2="136.5" stroke="#fff" stroke-width="1.2"/>
<g transform="translate(317.5 460.5) rotate(31)"><path d="M-140.0 -7.0 L-153.0 -7.0 A4.2 7.0 0 0 0 -153.0 7.0 L-140.0 7.0 A4.2 7.0 0 0 0 -140.0 -7.0Z" fill="#4a4c4e" stroke="#1b1d1f" stroke-width="1" stroke-linejoin="round"/><ellipse cx="-140.0" cy="0" rx="4.2" ry="7.0" fill="#666" stroke="#1b1d1f" stroke-width="1"/><line x1="-154.0" y1="-3.5" x2="-142.0" y2="-3.5" stroke="#aaa" stroke-width="1.1"/><line x1="-154.0" y1="0.0" x2="-142.0" y2="0.0" stroke="#aaa" stroke-width="1.1"/><line x1="-154.0" y1="3.5" x2="-142.0" y2="3.5" stroke="#aaa" stroke-width="1.1"/><path d="M-68.0 -20.5 L-134.0 -20.5 A11.0 22.0 0 0 0 -134.0 23.5 L-68.0 23.5 A11.0 22.0 0 0 0 -68.0 -20.5Z" fill="#1b1c1d" stroke="#151617" stroke-width="1.3"/><clipPath id="bh-134"><path d="M-68.0 -20.5 L-134.0 -20.5 A11.0 22.0 0 0 0 -134.0 23.5 L-68.0 23.5 A11.0 22.0 0 0 0 -68.0 -20.5Z"/></clipPath><g clip-path="url(#bh-134)"><path d="M-141.0 -19.2 Q-104.0 -14.0 -67.0 -14.8" fill="none" stroke="#a7a9ab" stroke-width="5.2"/><line x1="-135.8" y1="-22.0" x2="-140.2" y2="-15.6" stroke="#1b1c1d" stroke-width="1.5"/><line x1="-127.4" y1="-20.9" x2="-131.8" y2="-14.5" stroke="#1b1c1d" stroke-width="1.5"/><line x1="-119.0" y1="-20.0" x2="-123.4" y2="-13.6" stroke="#1b1c1d" stroke-width="1.5"/><line x1="-110.6" y1="-19.3" x2="-115.0" y2="-12.9" stroke="#1b1c1d" stroke-width="1.5"/><line x1="-102.2" y1="-18.7" x2="-106.6" y2="-12.3" stroke="#1b1c1d" stroke-width="1.5"/><line x1="-93.8" y1="-18.3" x2="-98.2" y2="-11.9" stroke="#1b1c1d" stroke-width="1.5"/><line x1="-85.4" y1="-18.0" x2="-89.8" y2="-11.6" stroke="#1b1c1d" stroke-width="1.5"/><line x1="-77.0" y1="-17.9" x2="-81.4" y2="-11.5" stroke="#1b1c1d" stroke-width="1.5"/><line x1="-68.6" y1="-17.9" x2="-73.0" y2="-11.5" stroke="#1b1c1d" stroke-width="1.5"/><path d="M-144.2 -12.7 Q-105.6 -7.5 -67.0 -8.3" fill="none" stroke="#a7a9ab" stroke-width="5.2"/><line x1="-134.8" y1="-15.0" x2="-139.2" y2="-8.6" stroke="#1b1c1d" stroke-width="1.5"/><line x1="-126.4" y1="-14.0" x2="-130.8" y2="-7.6" stroke="#1b1c1d" stroke-width="1.5"/><line x1="-118.0" y1="-13.2" x2="-122.4" y2="-6.8" stroke="#1b1c1d" stroke-width="1.5"/><line x1="-109.6" y1="-12.6" x2="-114.0" y2="-6.2" stroke="#1b1c1d" stroke-width="1.5"/><line x1="-101.2" y1="-12.1" x2="-105.6" y2="-5.7" stroke="#1b1c1d" stroke-width="1.5"/><line x1="-92.8" y1="-11.7" x2="-97.2" y2="-5.3" stroke="#1b1c1d" stroke-width="1.5"/><line x1="-84.4" y1="-11.5" x2="-88.8" y2="-5.1" stroke="#1b1c1d" stroke-width="1.5"/><line x1="-76.0" y1="-11.4" x2="-80.4" y2="-5.0" stroke="#1b1c1d" stroke-width="1.5"/><line x1="-67.6" y1="-11.4" x2="-72.0" y2="-5.0" stroke="#1b1c1d" stroke-width="1.5"/><path d="M-145.7 -6.2 Q-106.3 -1.0 -67.0 -1.8" fill="none" stroke="#a7a9ab" stroke-width="5.2"/><line x1="-140.5" y1="-9.0" x2="-144.9" y2="-2.6" stroke="#1b1c1d" stroke-width="1.5"/><line x1="-132.1" y1="-8.0" x2="-136.5" y2="-1.6" stroke="#1b1c1d" stroke-width="1.5"/><line x1="-123.7" y1="-7.2" x2="-128.1" y2="-0.8" stroke="#1b1c1d" stroke-width="1.5"/><line x1="-115.3" y1="-6.4" x2="-119.7" y2="-0.0" stroke="#1b1c1d" stroke-width="1.5"/><line x1="-106.9" y1="-5.9" x2="-111.3" y2="0.5" stroke="#1b1c1d" stroke-width="1.5"/><line x1="-98.5" y1="-5.4" x2="-102.9" y2="1.0" stroke="#1b1c1d" stroke-width="1.5"/><line x1="-90.1" y1="-5.1" x2="-94.5" y2="1.3" stroke="#1b1c1d" stroke-width="1.5"/><line x1="-81.7" y1="-4.9" x2="-86.1" y2="1.5" stroke="#1b1c1d" stroke-width="1.5"/><line x1="-73.3" y1="-4.9" x2="-77.7" y2="1.5" stroke="#1b1c1d" stroke-width="1.5"/><line x1="-64.9" y1="-5.0" x2="-69.3" y2="1.4" stroke="#1b1c1d" stroke-width="1.5"/><path d="M-146.0 0.3 Q-106.5 5.5 -67.0 4.7" fill="none" stroke="#a7a9ab" stroke-width="5.2"/><line x1="-136.6" y1="-2.0" x2="-141.0" y2="4.4" stroke="#1b1c1d" stroke-width="1.5"/><line x1="-128.2" y1="-1.1" x2="-132.6" y2="5.3" stroke="#1b1c1d" stroke-width="1.5"/><line x1="-119.8" y1="-0.3" x2="-124.2" y2="6.1" stroke="#1b1c1d" stroke-width="1.5"/><line x1="-111.4" y1="0.4" x2="-115.8" y2="6.8" stroke="#1b1c1d" stroke-width="1.5"/><line x1="-103.0" y1="0.9" x2="-107.4" y2="7.3" stroke="#1b1c1d" stroke-width="1.5"/><line x1="-94.6" y1="1.3" x2="-99.0" y2="7.7" stroke="#1b1c1d" stroke-width="1.5"/><line x1="-86.2" y1="1.5" x2="-90.6" y2="7.9" stroke="#1b1c1d" stroke-width="1.5"/><line x1="-77.8" y1="1.6" x2="-82.2" y2="8.0" stroke="#1b1c1d" stroke-width="1.5"/><line x1="-69.4" y1="1.6" x2="-73.8" y2="8.0" stroke="#1b1c1d" stroke-width="1.5"/><path d="M-145.3 6.8 Q-106.2 12.0 -67.0 11.2" fill="none" stroke="#9c9ea0" stroke-width="5.2"/><path d="M-143.7 12.8 Q-105.3 18.0 -67.0 17.2" fill="none" stroke="#8c8e90" stroke-width="5.2"/><path d="M-140.1 18.8 Q-103.5 24.0 -67.0 23.2" fill="none" stroke="#8c8e90" stroke-width="5.2"/></g><path d="M0.0 -18.5 L-64.0 -18.5 A11.0 22.0 0 0 0 -64.0 25.5 L0.0 25.5 A11.0 22.0 0 0 0 0.0 -18.5Z" fill="#1b1c1d" stroke="#151617" stroke-width="1.3"/><clipPath id="bh-64"><path d="M0.0 -18.5 L-64.0 -18.5 A11.0 22.0 0 0 0 -64.0 25.5 L0.0 25.5 A11.0 22.0 0 0 0 0.0 -18.5Z"/></clipPath><g clip-path="url(#bh-64)"><path d="M-71.0 -13.4 Q-35.0 -17.0 1.0 -16.6" fill="none" stroke="#a7a9ab" stroke-width="5.2"/><line x1="-70.2" y1="-16.9" x2="-65.8" y2="-10.5" stroke="#1b1c1d" stroke-width="1.5"/><line x1="-61.8" y1="-17.6" x2="-57.4" y2="-11.2" stroke="#1b1c1d" stroke-width="1.5"/><line x1="-53.4" y1="-18.3" x2="-49.0" y2="-11.9" stroke="#1b1c1d" stroke-width="1.5"/><line x1="-45.0" y1="-18.8" x2="-40.6" y2="-12.4" stroke="#1b1c1d" stroke-width="1.5"/><line x1="-36.6" y1="-19.2" x2="-32.2" y2="-12.8" stroke="#1b1c1d" stroke-width="1.5"/><line x1="-28.2" y1="-19.5" x2="-23.8" y2="-13.1" stroke="#1b1c1d" stroke-width="1.5"/><line x1="-19.8" y1="-19.7" x2="-15.4" y2="-13.3" stroke="#1b1c1d" stroke-width="1.5"/><line x1="-11.4" y1="-19.8" x2="-7.0" y2="-13.4" stroke="#1b1c1d" stroke-width="1.5"/><line x1="-3.0" y1="-19.8" x2="1.4" y2="-13.4" stroke="#1b1c1d" stroke-width="1.5"/><path d="M-74.2 -6.9 Q-36.6 -10.5 1.0 -10.1" fill="none" stroke="#a7a9ab" stroke-width="5.2"/><line x1="-69.2" y1="-10.8" x2="-64.8" y2="-4.4" stroke="#1b1c1d" stroke-width="1.5"/><line x1="-60.8" y1="-11.4" x2="-56.4" y2="-5.0" stroke="#1b1c1d" stroke-width="1.5"/><line x1="-52.4" y1="-12.0" x2="-48.0" y2="-5.6" stroke="#1b1c1d" stroke-width="1.5"/><line x1="-44.0" y1="-12.5" x2="-39.6" y2="-6.1" stroke="#1b1c1d" stroke-width="1.5"/><line x1="-35.6" y1="-12.8" x2="-31.2" y2="-6.4" stroke="#1b1c1d" stroke-width="1.5"/><line x1="-27.2" y1="-13.1" x2="-22.8" y2="-6.7" stroke="#1b1c1d" stroke-width="1.5"/><line x1="-18.8" y1="-13.3" x2="-14.4" y2="-6.9" stroke="#1b1c1d" stroke-width="1.5"/><line x1="-10.4" y1="-13.3" x2="-6.0" y2="-6.9" stroke="#1b1c1d" stroke-width="1.5"/><line x1="-2.0" y1="-13.3" x2="2.4" y2="-6.9" stroke="#1b1c1d" stroke-width="1.5"/><path d="M-75.7 -0.4 Q-37.3 -4.0 1.0 -3.6" fill="none" stroke="#a7a9ab" stroke-width="5.2"/><line x1="-74.9" y1="-3.9" x2="-70.5" y2="2.5" stroke="#1b1c1d" stroke-width="1.5"/><line x1="-66.5" y1="-4.6" x2="-62.1" y2="1.8" stroke="#1b1c1d" stroke-width="1.5"/><line x1="-58.1" y1="-5.2" x2="-53.7" y2="1.2" stroke="#1b1c1d" stroke-width="1.5"/><line x1="-49.7" y1="-5.7" x2="-45.3" y2="0.7" stroke="#1b1c1d" stroke-width="1.5"/><line x1="-41.3" y1="-6.1" x2="-36.9" y2="0.3" stroke="#1b1c1d" stroke-width="1.5"/><line x1="-32.9" y1="-6.4" x2="-28.5" y2="-0.0" stroke="#1b1c1d" stroke-width="1.5"/><line x1="-24.5" y1="-6.7" x2="-20.1" y2="-0.3" stroke="#1b1c1d" stroke-width="1.5"/><line x1="-16.1" y1="-6.8" x2="-11.7" y2="-0.4" stroke="#1b1c1d" stroke-width="1.5"/><line x1="-7.7" y1="-6.8" x2="-3.3" y2="-0.4" stroke="#1b1c1d" stroke-width="1.5"/><path d="M-76.0 6.1 Q-37.5 2.5 1.0 2.9" fill="none" stroke="#a7a9ab" stroke-width="5.2"/><line x1="-71.0" y1="2.3" x2="-66.6" y2="8.7" stroke="#1b1c1d" stroke-width="1.5"/><line x1="-62.6" y1="1.6" x2="-58.2" y2="8.0" stroke="#1b1c1d" stroke-width="1.5"/><line x1="-54.2" y1="1.0" x2="-49.8" y2="7.4" stroke="#1b1c1d" stroke-width="1.5"/><line x1="-45.8" y1="0.6" x2="-41.4" y2="7.0" stroke="#1b1c1d" stroke-width="1.5"/><line x1="-37.4" y1="0.2" x2="-33.0" y2="6.6" stroke="#1b1c1d" stroke-width="1.5"/><line x1="-29.0" y1="-0.1" x2="-24.6" y2="6.3" stroke="#1b1c1d" stroke-width="1.5"/><line x1="-20.6" y1="-0.2" x2="-16.2" y2="6.2" stroke="#1b1c1d" stroke-width="1.5"/><line x1="-12.2" y1="-0.3" x2="-7.8" y2="6.1" stroke="#1b1c1d" stroke-width="1.5"/><line x1="-3.8" y1="-0.3" x2="0.6" y2="6.1" stroke="#1b1c1d" stroke-width="1.5"/><path d="M-75.3 12.6 Q-37.2 9.0 1.0 9.4" fill="none" stroke="#9c9ea0" stroke-width="5.2"/><path d="M-73.7 18.6 Q-36.3 15.0 1.0 15.4" fill="none" stroke="#8c8e90" stroke-width="5.2"/><path d="M-70.1 24.6 Q-34.5 21.0 1.0 21.4" fill="none" stroke="#8c8e90" stroke-width="5.2"/></g><path d="M-59.0 -25.0 Q-73.0 -16.0 -71.0 11.0 L-67.0 24.0 Q-68.0 0.0 -56.0 -21.0Z" fill="#404245" stroke="#151617" stroke-width="1"/><path d="M-68.0 -26.5 L-53.0 -25.5 L-54.0 -20.5 L-64.0 -20.5Z" fill="#2a2c2e" stroke="#151617" stroke-width="1"/><path d="M25.0 -6.5 L13.0 -6.5 A3.9 6.5 0 0 0 13.0 6.5 L25.0 6.5 A3.9 6.5 0 0 0 25.0 -6.5Z" fill="#b8b8b8" stroke="#222" stroke-width="1" stroke-linejoin="round"/><ellipse cx="25.0" cy="0" rx="3.9" ry="6.5" fill="#e2e2e2" stroke="#222" stroke-width="1"/><line x1="13" y1="-4.5" x2="24" y2="-4.5" stroke="#222" stroke-width="1"/><line x1="13" y1="-1.5" x2="24" y2="-1.5" stroke="#222" stroke-width="1"/><line x1="13" y1="1.5" x2="24" y2="1.5" stroke="#222" stroke-width="1"/><line x1="13" y1="4.5" x2="24" y2="4.5" stroke="#222" stroke-width="1"/><ellipse cx="25" cy="0" rx="2.2" ry="3.6" fill="#fff" stroke="#222" stroke-width="0.8"/></g>
<polygon points="331.0,444.0 343.0,449.5 355.0,462.0 350.5,469.5 343.0,466.0 338.0,458.0 331.0,456.0" fill="#2b2d2f" stroke="#131415" stroke-width="1"/>
<polygon points="337.0,452.0 342.5,454.5 341.5,458.0 336.5,456.0" fill="#1a1b1c"/>
<polygon points="322.0,437.7 332.3,445.2 329.5,462.0 327.4,475.5 319.2,473.6 318.4,457.4" fill="#3c3e41" stroke="#131415" stroke-width="1"/>
<circle cx="325.5" cy="444.3" r="0.9" fill="#111"/>
<path d="M318.6 459.0 Q313.0 466.0 316.0 476.0 L320.0 474.0Z" fill="#77797b" stroke="#222" stroke-width="0.8"/>
<polygon points="197.9,362.8 208.4,369.5 205.7,379.5 201.8,391.8 192.8,399.6 191.7,397.4 196.2,375.0" fill="#3c3e41" stroke="#131415" stroke-width="1"/>
<circle cx="202.0" cy="370.0" r="0.9" fill="#111"/>
<polygon points="208.4,369.5 221.0,377.0 214.0,381.5 206.5,377.0" fill="#2b2d2f" stroke="#131415" stroke-width="0.8"/>
<polyline points="485.3,456.3 497.5,456.3 556.3,431.3" fill="none" stroke="#a6dce5" stroke-width="1.1" stroke-linejoin="round"/>
<circle cx="556.3" cy="431.3" r="1.6" fill="#7fd0de" stroke="#49b3c7" stroke-width="0.6"/>
<circle cx="471.3" cy="456.3" r="14" fill="#fff" stroke="#b7e0e6" stroke-width="1.1"/>
<text x="471.3" y="460.6" text-anchor="middle" font-size="13.2" fill="#3a9db2" textLength="11.2" lengthAdjust="spacingAndGlyphs">87</text>
<text x="429.5" y="462.0" font-size="13.5" fill="#7a7a7a" textLength="21.5" lengthAdjust="spacingAndGlyphs">(2x)</text>
<polyline points="527.0,482.0 542.5,482.0 633.8,426.8" fill="none" stroke="#a6dce5" stroke-width="1.1" stroke-linejoin="round"/>
<circle cx="633.8" cy="426.8" r="1.6" fill="#7fd0de" stroke="#49b3c7" stroke-width="0.6"/>
<circle cx="513.0" cy="482.0" r="14" fill="#fff" stroke="#b7e0e6" stroke-width="1.1"/>
<text x="513.0" y="486.3" text-anchor="middle" font-size="13.2" fill="#3a9db2" textLength="11.2" lengthAdjust="spacingAndGlyphs">93</text>
<text x="470.0" y="488.5" font-size="13.5" fill="#7a7a7a" textLength="21.5" lengthAdjust="spacingAndGlyphs">(2x)</text>
<polyline points="590.3,520.0 606.0,520.0 657.5,475.0" fill="none" stroke="#a6dce5" stroke-width="1.1" stroke-linejoin="round"/>
<circle cx="657.5" cy="475.0" r="1.6" fill="#7fd0de" stroke="#49b3c7" stroke-width="0.6"/>
<circle cx="576.3" cy="520.0" r="14" fill="#fff" stroke="#b7e0e6" stroke-width="1.1"/>
<text x="576.3" y="524.3" text-anchor="middle" font-size="13.2" fill="#3a9db2" textLength="11.2" lengthAdjust="spacingAndGlyphs">94</text>
<text x="534.5" y="526.5" font-size="13.5" fill="#7a7a7a" textLength="21.5" lengthAdjust="spacingAndGlyphs">(2x)</text>
<polyline points="636.0,547.5 651.3,547.5 727.5,485.0" fill="none" stroke="#a6dce5" stroke-width="1.1" stroke-linejoin="round"/>
<circle cx="727.5" cy="485.0" r="1.6" fill="#7fd0de" stroke="#49b3c7" stroke-width="0.6"/>
<circle cx="622.0" cy="547.5" r="14" fill="#fff" stroke="#b7e0e6" stroke-width="1.1"/>
<text x="622.0" y="551.8" text-anchor="middle" font-size="13.2" fill="#3a9db2" textLength="11.2" lengthAdjust="spacingAndGlyphs">92</text>
<text x="582.0" y="554.0" font-size="13.5" fill="#7a7a7a" textLength="21.5" lengthAdjust="spacingAndGlyphs">(2x)</text>
<polyline points="687.0,575.5 701.3,575.5 758.3,508.5" fill="none" stroke="#a6dce5" stroke-width="1.1" stroke-linejoin="round"/>
<circle cx="758.3" cy="508.5" r="1.6" fill="#7fd0de" stroke="#49b3c7" stroke-width="0.6"/>
<circle cx="673.0" cy="575.5" r="14" fill="#fff" stroke="#b7e0e6" stroke-width="1.1"/>
<text x="673.0" y="579.8" text-anchor="middle" font-size="13.2" fill="#3a9db2" textLength="16.5" lengthAdjust="spacingAndGlyphs">5.A</text>
<text x="631.8" y="582.0" font-size="13.5" fill="#7a7a7a" textLength="21.5" lengthAdjust="spacingAndGlyphs">(2x)</text>
<polyline points="729.0,603.5 743.8,603.5 787.5,548.5" fill="none" stroke="#a6dce5" stroke-width="1.1" stroke-linejoin="round"/>
<circle cx="787.5" cy="548.5" r="1.6" fill="#7fd0de" stroke="#49b3c7" stroke-width="0.6"/>
<circle cx="715.0" cy="603.5" r="14" fill="#fff" stroke="#b7e0e6" stroke-width="1.1"/>
<text x="715.0" y="607.8" text-anchor="middle" font-size="13.2" fill="#3a9db2" textLength="11.2" lengthAdjust="spacingAndGlyphs">91</text>
<text x="674.5" y="610.0" font-size="13.5" fill="#7a7a7a" textLength="21.5" lengthAdjust="spacingAndGlyphs">(2x)</text>
<polyline points="907.3,517.0 921.5,517.0 937.0,458.0" fill="none" stroke="#a6dce5" stroke-width="1.1" stroke-linejoin="round"/>
<circle cx="937.0" cy="458.0" r="1.6" fill="#7fd0de" stroke="#49b3c7" stroke-width="0.6"/>
<circle cx="893.3" cy="517.0" r="14" fill="#fff" stroke="#b7e0e6" stroke-width="1.1"/>
<text x="893.3" y="521.3" text-anchor="middle" font-size="13.2" fill="#3a9db2" textLength="16.5" lengthAdjust="spacingAndGlyphs">5.A</text>
<text x="849.5" y="523.5" font-size="13.5" fill="#7a7a7a" textLength="21.5" lengthAdjust="spacingAndGlyphs">(2x)</text>
<polyline points="952.3,552.0 967.0,552.0 988.3,493.8" fill="none" stroke="#a6dce5" stroke-width="1.1" stroke-linejoin="round"/>
<circle cx="988.3" cy="493.8" r="1.6" fill="#7fd0de" stroke="#49b3c7" stroke-width="0.6"/>
<circle cx="938.3" cy="552.0" r="14" fill="#fff" stroke="#b7e0e6" stroke-width="1.1"/>
<text x="938.3" y="556.3" text-anchor="middle" font-size="13.2" fill="#3a9db2" textLength="11.2" lengthAdjust="spacingAndGlyphs">96</text>
<text x="898.8" y="558.5" font-size="13.5" fill="#7a7a7a" textLength="21.5" lengthAdjust="spacingAndGlyphs">(2x)</text>
<polyline points="739.0,209.5 753.3,209.5 751.3,343.8" fill="none" stroke="#a6dce5" stroke-width="1.1" stroke-linejoin="round"/>
<circle cx="751.3" cy="343.8" r="1.6" fill="#7fd0de" stroke="#49b3c7" stroke-width="0.6"/>
<circle cx="725.0" cy="209.5" r="14" fill="#fff" stroke="#b7e0e6" stroke-width="1.1"/>
<text x="725.0" y="213.8" text-anchor="middle" font-size="13.2" fill="#3a9db2" textLength="11.2" lengthAdjust="spacingAndGlyphs">98</text>
<polyline points="798.5,258.8 784.5,258.8 788.8,364.5" fill="none" stroke="#a6dce5" stroke-width="1.1" stroke-linejoin="round"/>
<circle cx="788.8" cy="364.5" r="1.6" fill="#7fd0de" stroke="#49b3c7" stroke-width="0.6"/>
<circle cx="812.5" cy="258.8" r="14" fill="#fff" stroke="#b7e0e6" stroke-width="1.1"/>
<text x="812.5" y="263.1" text-anchor="middle" font-size="13.2" fill="#3a9db2" textLength="11.2" lengthAdjust="spacingAndGlyphs">97</text>
<text x="832.5" y="257.0" font-size="13.5" fill="#7a7a7a" textLength="21.5" lengthAdjust="spacingAndGlyphs">(x2)</text>
<polyline points="863.5,295.5 849.5,295.5 850.8,389.5" fill="none" stroke="#a6dce5" stroke-width="1.1" stroke-linejoin="round"/>
<circle cx="850.8" cy="389.5" r="1.6" fill="#7fd0de" stroke="#49b3c7" stroke-width="0.6"/>
<circle cx="877.5" cy="295.5" r="14" fill="#fff" stroke="#b7e0e6" stroke-width="1.1"/>
<text x="877.5" y="299.8" text-anchor="middle" font-size="13.2" fill="#3a9db2" textLength="11.2" lengthAdjust="spacingAndGlyphs">89</text>
<text x="897.0" y="294.5" font-size="13.5" fill="#7a7a7a" textLength="21.5" lengthAdjust="spacingAndGlyphs">(x2)</text>
<polyline points="906.5,320.0 892.0,320.0 896.3,415.0" fill="none" stroke="#a6dce5" stroke-width="1.1" stroke-linejoin="round"/>
<circle cx="896.3" cy="415.0" r="1.6" fill="#7fd0de" stroke="#49b3c7" stroke-width="0.6"/>
<circle cx="920.5" cy="320.0" r="14" fill="#fff" stroke="#b7e0e6" stroke-width="1.1"/>
<text x="920.5" y="324.3" text-anchor="middle" font-size="13.2" fill="#3a9db2" textLength="11.2" lengthAdjust="spacingAndGlyphs">95</text>
<text x="940.8" y="319.0" font-size="13.5" fill="#7a7a7a" textLength="21.5" lengthAdjust="spacingAndGlyphs">(x2)</text>
<polyline points="221.5,298.3 236.3,298.3 232.5,397.5" fill="none" stroke="#a6dce5" stroke-width="1.1" stroke-linejoin="round"/>
<circle cx="232.5" cy="397.5" r="1.6" fill="#7fd0de" stroke="#49b3c7" stroke-width="0.6"/>
<circle cx="207.5" cy="298.3" r="14" fill="#fff" stroke="#b7e0e6" stroke-width="1.1"/>
<text x="207.5" y="302.6" text-anchor="middle" font-size="13.2" fill="#3a9db2" textLength="11.2" lengthAdjust="spacingAndGlyphs">74</text>
<polyline points="748.5,0 710,92.5" fill="none" stroke="#a6dce5" stroke-width="1.1"/>
<circle cx="710" cy="92.5" r="1.6" fill="#7fd0de" stroke="#49b3c7" stroke-width="0.6"/>
<path d="M207.7 26.3 L232.4 26.3 L232.4 88.4 L245.6 88.4 L220.6 151.4 L195.8 88.4 L207.7 88.4Z" fill="none" stroke="#e8212b" stroke-width="5.0" stroke-linejoin="round"/>
<ellipse cx="220.2" cy="186.6" rx="22.6" ry="27.4" fill="none" stroke="#e8212b" stroke-width="3.8"/>
<path d="M626.1 255.3 L649.7 255.3 L649.7 322.6 L661.7 322.6 L637.6 388.0 L613.6 322.6 L626.1 322.6Z" fill="none" stroke="#e8212b" stroke-width="4.5" stroke-linejoin="round"/>
<circle cx="635.4" cy="435.9" r="20.2" fill="none" stroke="#e8212b" stroke-width="5.2"/>
</svg>
</body></html>
